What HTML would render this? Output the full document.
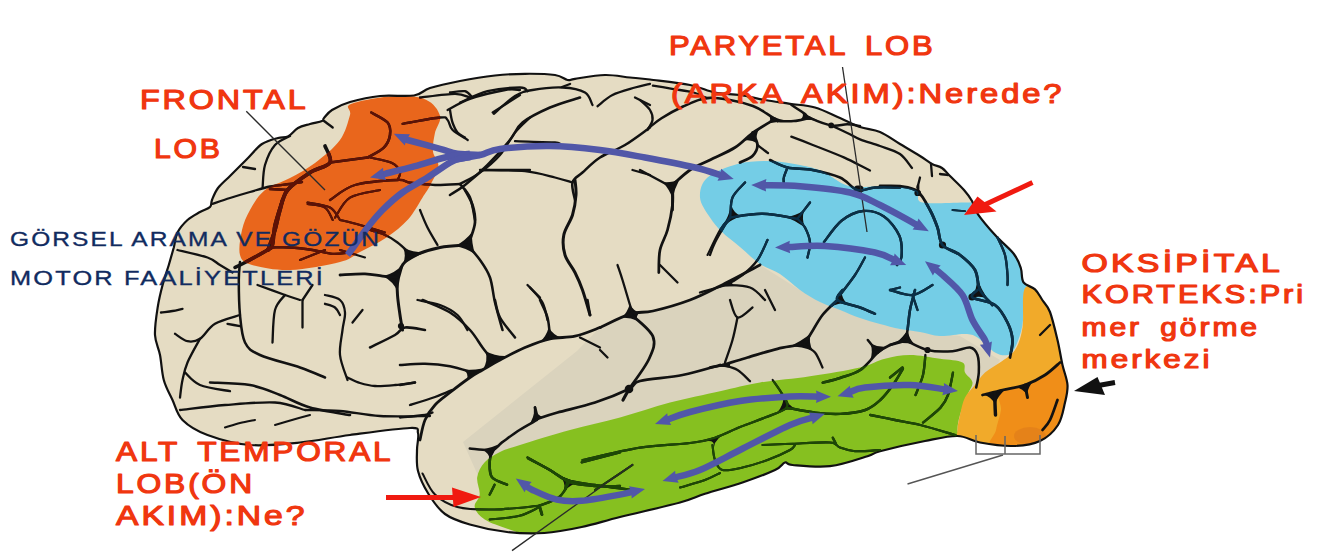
<!DOCTYPE html>
<html><head><meta charset="utf-8"><style>
html,body{margin:0;padding:0;background:#fff;width:1320px;height:559px;overflow:hidden}
svg{display:block}
text{font-family:"Liberation Sans",sans-serif}
</style></head><body>
<svg width="1320" height="559" viewBox="0 0 1320 559">
<defs><clipPath id="brain"><path d="M155.0,335.0 C154.6,327.1 156.3,316.1 157.6,307.8 C158.9,299.5 160.7,292.1 162.6,285.0 C164.5,277.9 166.9,271.2 168.8,265.0 C170.6,258.8 172.3,252.9 173.8,247.5 C175.2,242.1 175.2,237.1 177.5,232.5 C179.8,227.9 183.8,223.4 187.5,220.0 C191.2,216.6 196.2,214.2 200.0,212.0 C203.8,209.8 208.0,209.0 210.0,207.0 C212.0,205.0 210.7,203.2 212.0,200.0 C213.3,196.8 215.0,192.0 218.0,188.0 C221.0,184.0 226.0,180.0 230.0,176.0 C234.0,172.0 239.0,167.0 242.0,164.0 C245.0,161.0 244.7,161.3 248.0,158.0 C251.3,154.7 257.0,147.3 262.0,144.0 C267.0,140.7 273.7,139.2 278.0,138.0 C282.3,136.8 284.7,138.2 288.0,136.5 C291.3,134.8 294.3,130.1 298.0,128.0 C301.7,125.9 306.0,125.2 310.0,124.0 C314.0,122.8 319.7,122.0 322.0,121.0 C324.3,120.0 322.3,119.8 324.0,118.0 C325.7,116.2 327.7,112.7 332.0,110.0 C336.3,107.3 342.0,104.3 350.0,102.0 C358.0,99.7 369.3,97.1 380.0,96.0 C390.7,94.9 405.7,96.8 414.0,95.5 C422.3,94.2 422.3,90.4 430.0,88.0 C437.7,85.6 449.2,83.1 460.0,81.0 C470.8,78.9 484.2,76.7 495.0,75.5 C505.8,74.3 515.0,73.8 525.0,73.8 C535.0,73.7 547.9,74.0 555.0,75.0 C562.1,76.0 564.2,79.4 567.5,80.0 C570.8,80.6 568.8,79.6 575.0,78.8 C581.2,77.9 595.8,75.2 605.0,75.0 C614.2,74.8 622.5,76.8 630.0,77.5 C637.5,78.2 640.0,78.2 650.0,79.5 C660.0,80.8 679.2,82.8 690.0,85.0 C700.8,87.2 706.7,90.8 715.0,92.5 C723.3,94.2 731.7,93.8 740.0,95.0 C748.3,96.2 756.7,98.5 765.0,100.0 C773.3,101.5 781.7,102.5 790.0,103.8 C798.3,105.0 806.7,105.1 815.0,107.5 C823.3,109.9 832.5,114.8 840.0,118.0 C847.5,121.2 853.3,124.7 860.0,127.0 C866.7,129.3 873.3,129.2 880.0,132.0 C886.7,134.8 893.3,140.0 900.0,144.0 C906.7,148.0 914.7,152.7 920.0,156.0 C925.3,159.3 928.3,162.0 932.0,164.0 C935.7,166.0 939.0,166.0 942.0,168.0 C945.0,170.0 946.3,172.3 950.0,176.0 C953.7,179.7 960.3,185.8 964.0,190.0 C967.7,194.2 969.7,196.9 972.0,201.0 C974.3,205.1 974.0,208.5 978.0,214.3 C982.0,220.1 989.8,229.2 995.8,235.8 C1001.8,242.4 1009.5,248.3 1013.7,253.7 C1017.9,259.1 1019.2,263.2 1020.8,268.0 C1022.4,272.8 1021.1,278.7 1023.5,282.3 C1025.9,285.9 1031.9,286.4 1035.0,289.4 C1038.1,292.3 1039.8,296.2 1042.3,300.0 C1044.8,303.8 1047.5,305.3 1050.0,312.0 C1052.5,318.7 1055.4,331.2 1057.5,340.0 C1059.6,348.8 1060.8,357.5 1062.5,365.0 C1064.2,372.5 1067.1,378.8 1067.5,385.0 C1067.9,391.2 1066.6,395.8 1065.0,402.5 C1063.4,409.2 1062.2,418.6 1058.0,425.0 C1053.8,431.4 1047.6,437.5 1040.0,441.0 C1032.4,444.5 1022.5,445.8 1012.5,446.0 C1002.5,446.2 989.2,444.2 980.0,442.5 C970.8,440.8 966.7,436.2 957.5,436.0 C948.3,435.8 937.9,438.5 925.0,441.0 C912.1,443.5 889.6,448.7 880.0,451.2 C870.4,453.8 875.8,453.8 867.5,456.2 C859.2,458.8 842.5,464.8 830.0,466.2 C817.5,467.7 800.0,465.6 792.5,465.0 C785.0,464.4 787.9,461.7 785.0,462.5 C782.1,463.3 782.1,466.7 775.0,470.0 C767.9,473.3 754.2,478.5 742.5,482.5 C730.8,486.5 715.4,490.4 705.0,493.8 C694.6,497.1 694.2,498.6 680.0,502.5 C665.8,506.4 636.4,512.9 620.0,517.0 C603.6,521.1 594.3,524.3 581.7,527.0 C569.1,529.7 556.9,532.2 544.4,533.0 C531.9,533.8 519.4,533.4 507.0,532.0 C494.6,530.6 480.1,527.5 469.8,524.5 C459.5,521.5 451.9,519.1 445.0,514.0 C438.1,508.9 433.0,501.2 428.5,494.0 C424.0,486.8 419.9,478.3 418.0,471.0 C416.1,463.7 417.0,456.3 417.0,450.0 C417.0,443.7 419.2,436.7 418.0,433.0 C416.8,429.3 421.3,427.7 410.0,428.0 C398.7,428.3 368.3,432.6 350.0,435.0 C331.7,437.4 316.7,440.8 300.0,442.5 C283.3,444.2 265.4,446.2 250.0,445.0 C234.6,443.8 218.8,439.2 207.5,435.0 C196.2,430.8 188.3,425.8 182.5,420.0 C176.7,414.2 175.6,406.7 172.5,400.0 C169.4,393.3 165.8,387.5 163.8,380.0 C161.7,372.5 161.5,362.5 160.0,355.0 C158.5,347.5 155.4,342.9 155.0,335.0Z"/></clipPath></defs>
<path d="M155.0,335.0 C154.6,327.1 156.3,316.1 157.6,307.8 C158.9,299.5 160.7,292.1 162.6,285.0 C164.5,277.9 166.9,271.2 168.8,265.0 C170.6,258.8 172.3,252.9 173.8,247.5 C175.2,242.1 175.2,237.1 177.5,232.5 C179.8,227.9 183.8,223.4 187.5,220.0 C191.2,216.6 196.2,214.2 200.0,212.0 C203.8,209.8 208.0,209.0 210.0,207.0 C212.0,205.0 210.7,203.2 212.0,200.0 C213.3,196.8 215.0,192.0 218.0,188.0 C221.0,184.0 226.0,180.0 230.0,176.0 C234.0,172.0 239.0,167.0 242.0,164.0 C245.0,161.0 244.7,161.3 248.0,158.0 C251.3,154.7 257.0,147.3 262.0,144.0 C267.0,140.7 273.7,139.2 278.0,138.0 C282.3,136.8 284.7,138.2 288.0,136.5 C291.3,134.8 294.3,130.1 298.0,128.0 C301.7,125.9 306.0,125.2 310.0,124.0 C314.0,122.8 319.7,122.0 322.0,121.0 C324.3,120.0 322.3,119.8 324.0,118.0 C325.7,116.2 327.7,112.7 332.0,110.0 C336.3,107.3 342.0,104.3 350.0,102.0 C358.0,99.7 369.3,97.1 380.0,96.0 C390.7,94.9 405.7,96.8 414.0,95.5 C422.3,94.2 422.3,90.4 430.0,88.0 C437.7,85.6 449.2,83.1 460.0,81.0 C470.8,78.9 484.2,76.7 495.0,75.5 C505.8,74.3 515.0,73.8 525.0,73.8 C535.0,73.7 547.9,74.0 555.0,75.0 C562.1,76.0 564.2,79.4 567.5,80.0 C570.8,80.6 568.8,79.6 575.0,78.8 C581.2,77.9 595.8,75.2 605.0,75.0 C614.2,74.8 622.5,76.8 630.0,77.5 C637.5,78.2 640.0,78.2 650.0,79.5 C660.0,80.8 679.2,82.8 690.0,85.0 C700.8,87.2 706.7,90.8 715.0,92.5 C723.3,94.2 731.7,93.8 740.0,95.0 C748.3,96.2 756.7,98.5 765.0,100.0 C773.3,101.5 781.7,102.5 790.0,103.8 C798.3,105.0 806.7,105.1 815.0,107.5 C823.3,109.9 832.5,114.8 840.0,118.0 C847.5,121.2 853.3,124.7 860.0,127.0 C866.7,129.3 873.3,129.2 880.0,132.0 C886.7,134.8 893.3,140.0 900.0,144.0 C906.7,148.0 914.7,152.7 920.0,156.0 C925.3,159.3 928.3,162.0 932.0,164.0 C935.7,166.0 939.0,166.0 942.0,168.0 C945.0,170.0 946.3,172.3 950.0,176.0 C953.7,179.7 960.3,185.8 964.0,190.0 C967.7,194.2 969.7,196.9 972.0,201.0 C974.3,205.1 974.0,208.5 978.0,214.3 C982.0,220.1 989.8,229.2 995.8,235.8 C1001.8,242.4 1009.5,248.3 1013.7,253.7 C1017.9,259.1 1019.2,263.2 1020.8,268.0 C1022.4,272.8 1021.1,278.7 1023.5,282.3 C1025.9,285.9 1031.9,286.4 1035.0,289.4 C1038.1,292.3 1039.8,296.2 1042.3,300.0 C1044.8,303.8 1047.5,305.3 1050.0,312.0 C1052.5,318.7 1055.4,331.2 1057.5,340.0 C1059.6,348.8 1060.8,357.5 1062.5,365.0 C1064.2,372.5 1067.1,378.8 1067.5,385.0 C1067.9,391.2 1066.6,395.8 1065.0,402.5 C1063.4,409.2 1062.2,418.6 1058.0,425.0 C1053.8,431.4 1047.6,437.5 1040.0,441.0 C1032.4,444.5 1022.5,445.8 1012.5,446.0 C1002.5,446.2 989.2,444.2 980.0,442.5 C970.8,440.8 966.7,436.2 957.5,436.0 C948.3,435.8 937.9,438.5 925.0,441.0 C912.1,443.5 889.6,448.7 880.0,451.2 C870.4,453.8 875.8,453.8 867.5,456.2 C859.2,458.8 842.5,464.8 830.0,466.2 C817.5,467.7 800.0,465.6 792.5,465.0 C785.0,464.4 787.9,461.7 785.0,462.5 C782.1,463.3 782.1,466.7 775.0,470.0 C767.9,473.3 754.2,478.5 742.5,482.5 C730.8,486.5 715.4,490.4 705.0,493.8 C694.6,497.1 694.2,498.6 680.0,502.5 C665.8,506.4 636.4,512.9 620.0,517.0 C603.6,521.1 594.3,524.3 581.7,527.0 C569.1,529.7 556.9,532.2 544.4,533.0 C531.9,533.8 519.4,533.4 507.0,532.0 C494.6,530.6 480.1,527.5 469.8,524.5 C459.5,521.5 451.9,519.1 445.0,514.0 C438.1,508.9 433.0,501.2 428.5,494.0 C424.0,486.8 419.9,478.3 418.0,471.0 C416.1,463.7 417.0,456.3 417.0,450.0 C417.0,443.7 419.2,436.7 418.0,433.0 C416.8,429.3 421.3,427.7 410.0,428.0 C398.7,428.3 368.3,432.6 350.0,435.0 C331.7,437.4 316.7,440.8 300.0,442.5 C283.3,444.2 265.4,446.2 250.0,445.0 C234.6,443.8 218.8,439.2 207.5,435.0 C196.2,430.8 188.3,425.8 182.5,420.0 C176.7,414.2 175.6,406.7 172.5,400.0 C169.4,393.3 165.8,387.5 163.8,380.0 C161.7,372.5 161.5,362.5 160.0,355.0 C158.5,347.5 155.4,342.9 155.0,335.0Z" fill="#e5dcc3"/>
<g clip-path="url(#brain)">
<path d="M463,442 L577,351 L600,327.5 L630,314 L653,311 L690,300 L720,286 L760,265 L800,290 L840,310 L900,329 L960,336 L1000,360 L965,420 L900,440 L700,480 L480,480 Z" fill="#dad3bd"/>
<path d="M351.0,104.0 C358.5,100.8 382.5,96.7 395.0,96.0 C407.5,95.3 418.5,96.4 426.0,99.7 C433.5,103.0 438.5,110.1 440.0,115.8 C441.5,121.5 436.0,127.7 434.8,133.7 C433.6,139.7 432.4,146.2 433.0,151.6 C433.6,157.0 438.7,160.6 438.4,166.0 C438.1,171.4 433.7,178.5 431.0,183.8 C428.3,189.1 426.1,192.1 422.3,198.0 C418.5,203.9 414.0,212.9 408.0,219.5 C402.0,226.1 394.5,232.0 386.5,237.4 C378.5,242.8 367.8,247.9 360.0,252.0 C352.2,256.1 351.7,259.0 340.0,262.0 C328.3,265.0 304.7,269.5 290.0,270.0 C275.3,270.5 260.3,267.5 252.0,265.0 C243.7,262.5 241.7,260.8 240.0,255.0 C238.3,249.2 240.3,237.5 242.0,230.0 C243.7,222.5 246.2,216.7 250.0,210.0 C253.8,203.3 258.3,195.3 265.0,190.0 C271.7,184.7 281.7,182.5 290.0,178.0 C298.3,173.5 306.7,169.3 315.0,163.0 C323.3,156.7 334.2,148.0 340.0,140.0 C345.8,132.0 348.2,121.0 350.0,115.0 C351.8,109.0 343.5,107.2 351.0,104.0Z" fill="#e9661c"/>
<path d="M737.5,164.0 C747.9,161.2 759.6,160.8 770.0,161.0 C780.4,161.2 791.2,163.2 800.0,165.0 C808.8,166.8 815.0,168.0 823.0,171.5 C831.0,175.0 838.5,183.3 848.0,185.8 C857.5,188.3 870.5,186.0 880.0,186.2 C889.5,186.5 898.8,186.7 905.0,187.5 C911.2,188.3 914.6,188.8 917.5,191.2 C920.4,193.8 914.2,200.6 922.5,202.5 C930.8,204.4 956.2,202.1 967.5,202.5 C978.8,202.9 981.2,198.8 990.0,205.0 C998.8,211.2 1012.5,225.8 1020.0,240.0 C1027.5,254.2 1034.2,281.7 1035.0,290.0 C1035.8,298.3 1027.1,284.2 1025.0,290.0 C1022.9,295.8 1024.2,315.4 1022.5,325.0 C1020.8,334.6 1017.5,342.5 1015.0,347.5 C1012.5,352.5 1010.8,354.2 1007.5,355.0 C1004.2,355.8 1000.0,355.4 995.0,352.5 C990.0,349.6 982.5,340.6 977.5,337.5 C972.5,334.4 971.2,334.2 965.0,334.0 C958.8,333.8 947.5,336.3 940.0,336.0 C932.5,335.7 926.7,333.2 920.0,332.0 C913.3,330.8 906.7,330.3 900.0,329.0 C893.3,327.7 886.7,325.8 880.0,324.0 C873.3,322.2 866.7,320.3 860.0,318.0 C853.3,315.7 846.7,312.7 840.0,310.0 C833.3,307.3 826.7,305.3 820.0,302.0 C813.3,298.7 806.7,294.7 800.0,290.0 C793.3,285.3 786.7,278.3 780.0,274.0 C773.3,269.7 766.7,268.5 760.0,264.0 C753.3,259.5 746.3,252.3 740.0,247.0 C733.7,241.7 727.0,236.9 722.0,232.0 C717.0,227.1 713.7,223.2 710.0,217.5 C706.3,211.8 700.4,204.2 700.0,197.5 C699.6,190.8 701.2,183.1 707.5,177.5 C713.8,171.9 727.1,166.8 737.5,164.0Z" fill="#74cde6"/>
<path d="M520.0,445.0 C531.7,441.3 553.3,434.6 570.0,430.0 C586.7,425.4 603.3,422.1 620.0,417.5 C636.7,412.9 653.3,406.9 670.0,402.5 C686.7,398.1 705.0,394.6 720.0,391.2 C735.0,387.9 745.0,385.0 760.0,382.5 C775.0,380.0 793.3,378.8 810.0,376.2 C826.7,373.8 847.5,370.4 860.0,367.5 C872.5,364.6 876.7,360.8 885.0,358.8 C893.3,356.7 900.8,355.0 910.0,355.0 C919.2,355.0 931.2,357.5 940.0,358.8 C948.8,360.0 958.3,360.2 962.5,362.5 C966.7,364.8 963.3,369.2 965.0,372.5 C966.7,375.8 972.1,378.8 972.5,382.5 C972.9,386.2 969.6,389.6 967.5,395.0 C965.4,400.4 961.7,409.2 960.0,415.0 C958.3,420.8 957.5,425.0 957.5,430.0 C957.5,435.0 965.4,442.0 960.0,445.0 C954.6,448.0 938.3,445.8 925.0,448.0 C911.7,450.2 895.8,454.0 880.0,458.0 C864.2,462.0 845.8,469.7 830.0,472.0 C814.2,474.3 799.6,469.0 785.0,472.0 C770.4,475.0 755.8,485.3 742.5,490.0 C729.2,494.7 715.4,496.7 705.0,500.0 C694.6,503.3 694.2,505.8 680.0,510.0 C665.8,514.2 636.4,520.8 620.0,525.0 C603.6,529.2 594.3,532.5 581.7,535.0 C569.1,537.5 556.4,540.9 544.4,540.0 C532.4,539.1 519.6,532.9 509.6,529.5 C499.7,526.1 490.5,523.2 484.7,519.5 C478.9,515.8 475.5,511.1 474.7,507.0 C473.9,502.9 479.3,499.6 479.7,494.6 C480.1,489.6 476.4,482.6 477.2,477.2 C478.0,471.8 480.9,466.5 484.7,462.3 C488.5,458.1 494.1,454.9 500.0,452.0 C505.9,449.1 508.3,448.7 520.0,445.0Z" fill="#86c020"/>
<path d="M1025.0,288.0 C1028.8,282.1 1039.2,286.7 1045.0,292.0 C1050.8,297.3 1055.0,305.3 1060.0,320.0 C1065.0,334.7 1073.3,363.3 1075.0,380.0 C1076.7,396.7 1074.2,407.5 1070.0,420.0 C1065.8,432.5 1061.7,449.2 1050.0,455.0 C1038.3,460.8 1015.0,456.7 1000.0,455.0 C985.0,453.3 967.1,449.2 960.0,445.0 C952.9,440.8 957.5,435.0 957.5,430.0 C957.5,425.0 958.8,420.4 960.0,415.0 C961.2,409.6 962.5,402.5 965.0,397.5 C967.5,392.5 971.7,389.2 975.0,385.0 C978.3,380.8 980.8,376.2 985.0,372.5 C989.2,368.8 995.0,366.2 1000.0,362.5 C1005.0,358.8 1011.2,355.8 1015.0,350.0 C1018.8,344.2 1020.8,337.8 1022.5,327.5 C1024.2,317.2 1021.2,293.9 1025.0,288.0Z" fill="#f1aa2a"/>
<path d="M1000.0,393.0 C1004.0,388.8 1017.5,388.0 1025.0,385.0 C1032.5,382.0 1039.2,378.8 1045.0,375.0 C1050.8,371.2 1054.2,362.8 1060.0,362.0 C1065.8,361.2 1076.7,355.3 1080.0,370.0 C1083.3,384.7 1094.2,436.7 1080.0,450.0 C1065.8,463.3 1009.0,453.3 995.0,450.0 C981.0,446.7 995.0,436.7 996.0,430.0 C997.0,423.3 1000.3,416.2 1001.0,410.0 C1001.7,403.8 996.0,397.2 1000.0,393.0Z" fill="#f08e18"/>
<ellipse cx="1030" cy="436" rx="16" ry="9" fill="#e2801a" opacity="0.8"/>
</g>
<path d="M155.0,335.0 C154.6,327.1 156.3,316.1 157.6,307.8 C158.9,299.5 160.7,292.1 162.6,285.0 C164.5,277.9 166.9,271.2 168.8,265.0 C170.6,258.8 172.3,252.9 173.8,247.5 C175.2,242.1 175.2,237.1 177.5,232.5 C179.8,227.9 183.8,223.4 187.5,220.0 C191.2,216.6 196.2,214.2 200.0,212.0 C203.8,209.8 208.0,209.0 210.0,207.0 C212.0,205.0 210.7,203.2 212.0,200.0 C213.3,196.8 215.0,192.0 218.0,188.0 C221.0,184.0 226.0,180.0 230.0,176.0 C234.0,172.0 239.0,167.0 242.0,164.0 C245.0,161.0 244.7,161.3 248.0,158.0 C251.3,154.7 257.0,147.3 262.0,144.0 C267.0,140.7 273.7,139.2 278.0,138.0 C282.3,136.8 284.7,138.2 288.0,136.5 C291.3,134.8 294.3,130.1 298.0,128.0 C301.7,125.9 306.0,125.2 310.0,124.0 C314.0,122.8 319.7,122.0 322.0,121.0 C324.3,120.0 322.3,119.8 324.0,118.0 C325.7,116.2 327.7,112.7 332.0,110.0 C336.3,107.3 342.0,104.3 350.0,102.0 C358.0,99.7 369.3,97.1 380.0,96.0 C390.7,94.9 405.7,96.8 414.0,95.5 C422.3,94.2 422.3,90.4 430.0,88.0 C437.7,85.6 449.2,83.1 460.0,81.0 C470.8,78.9 484.2,76.7 495.0,75.5 C505.8,74.3 515.0,73.8 525.0,73.8 C535.0,73.7 547.9,74.0 555.0,75.0 C562.1,76.0 564.2,79.4 567.5,80.0 C570.8,80.6 568.8,79.6 575.0,78.8 C581.2,77.9 595.8,75.2 605.0,75.0 C614.2,74.8 622.5,76.8 630.0,77.5 C637.5,78.2 640.0,78.2 650.0,79.5 C660.0,80.8 679.2,82.8 690.0,85.0 C700.8,87.2 706.7,90.8 715.0,92.5 C723.3,94.2 731.7,93.8 740.0,95.0 C748.3,96.2 756.7,98.5 765.0,100.0 C773.3,101.5 781.7,102.5 790.0,103.8 C798.3,105.0 806.7,105.1 815.0,107.5 C823.3,109.9 832.5,114.8 840.0,118.0 C847.5,121.2 853.3,124.7 860.0,127.0 C866.7,129.3 873.3,129.2 880.0,132.0 C886.7,134.8 893.3,140.0 900.0,144.0 C906.7,148.0 914.7,152.7 920.0,156.0 C925.3,159.3 928.3,162.0 932.0,164.0 C935.7,166.0 939.0,166.0 942.0,168.0 C945.0,170.0 946.3,172.3 950.0,176.0 C953.7,179.7 960.3,185.8 964.0,190.0 C967.7,194.2 969.7,196.9 972.0,201.0 C974.3,205.1 974.0,208.5 978.0,214.3 C982.0,220.1 989.8,229.2 995.8,235.8 C1001.8,242.4 1009.5,248.3 1013.7,253.7 C1017.9,259.1 1019.2,263.2 1020.8,268.0 C1022.4,272.8 1021.1,278.7 1023.5,282.3 C1025.9,285.9 1031.9,286.4 1035.0,289.4 C1038.1,292.3 1039.8,296.2 1042.3,300.0 C1044.8,303.8 1047.5,305.3 1050.0,312.0 C1052.5,318.7 1055.4,331.2 1057.5,340.0 C1059.6,348.8 1060.8,357.5 1062.5,365.0 C1064.2,372.5 1067.1,378.8 1067.5,385.0 C1067.9,391.2 1066.6,395.8 1065.0,402.5 C1063.4,409.2 1062.2,418.6 1058.0,425.0 C1053.8,431.4 1047.6,437.5 1040.0,441.0 C1032.4,444.5 1022.5,445.8 1012.5,446.0 C1002.5,446.2 989.2,444.2 980.0,442.5 C970.8,440.8 966.7,436.2 957.5,436.0 C948.3,435.8 937.9,438.5 925.0,441.0 C912.1,443.5 889.6,448.7 880.0,451.2 C870.4,453.8 875.8,453.8 867.5,456.2 C859.2,458.8 842.5,464.8 830.0,466.2 C817.5,467.7 800.0,465.6 792.5,465.0 C785.0,464.4 787.9,461.7 785.0,462.5 C782.1,463.3 782.1,466.7 775.0,470.0 C767.9,473.3 754.2,478.5 742.5,482.5 C730.8,486.5 715.4,490.4 705.0,493.8 C694.6,497.1 694.2,498.6 680.0,502.5 C665.8,506.4 636.4,512.9 620.0,517.0 C603.6,521.1 594.3,524.3 581.7,527.0 C569.1,529.7 556.9,532.2 544.4,533.0 C531.9,533.8 519.4,533.4 507.0,532.0 C494.6,530.6 480.1,527.5 469.8,524.5 C459.5,521.5 451.9,519.1 445.0,514.0 C438.1,508.9 433.0,501.2 428.5,494.0 C424.0,486.8 419.9,478.3 418.0,471.0 C416.1,463.7 417.0,456.3 417.0,450.0 C417.0,443.7 419.2,436.7 418.0,433.0 C416.8,429.3 421.3,427.7 410.0,428.0 C398.7,428.3 368.3,432.6 350.0,435.0 C331.7,437.4 316.7,440.8 300.0,442.5 C283.3,444.2 265.4,446.2 250.0,445.0 C234.6,443.8 218.8,439.2 207.5,435.0 C196.2,430.8 188.3,425.8 182.5,420.0 C176.7,414.2 175.6,406.7 172.5,400.0 C169.4,393.3 165.8,387.5 163.8,380.0 C161.7,372.5 161.5,362.5 160.0,355.0 C158.5,347.5 155.4,342.9 155.0,335.0Z" fill="none" stroke="#111" stroke-width="2.2"/>
<path d="M700.0,443.0 Q715.0,437.7 730.0,431.0 Q715.0,437.7 714.0,447.0 Q715.0,437.7 700.0,443.0 Z" fill="#121212"/>
<path d="M403.1,247.5 Q413.4,252.6 424.8,252.4 Q413.2,257.8 402.6,264.9 Q406.7,256.3 403.1,247.5Z" fill="#111"/>
<path d="M382.9,276.3 Q395.1,272.9 403.9,263.9 Q399.4,277.4 397.5,291.6 Q393.1,281.2 382.9,276.3Z" fill="#111"/>
<path d="M472.2,231.9 Q471.3,243.5 475.3,254.3 Q466.0,247.8 454.7,246.2 Q465.1,241.0 472.2,231.9Z" fill="#111"/>
<circle cx="857.5" cy="189.0" r="3.6" fill="#111"/>
<path d="M731.5,205.8 Q733.8,213.4 741.3,216.2 Q731.3,219.5 723.2,226.0 Q728.4,216.3 731.5,205.8Z" fill="#111"/>
<path d="M785.8,217.1 Q795.8,215.8 804.1,210.2 Q801.5,218.8 804.8,227.2 Q796.0,220.9 785.8,217.1Z" fill="#111"/>
<path d="M733.4,280.2 Q730.4,283.8 734.7,286.0 Q725.1,286.1 715.7,287.8 Q724.7,284.4 733.4,280.2Z" fill="#111"/>
<circle cx="917.5" cy="193.0" r="3.1" fill="#111"/>
<circle cx="942.5" cy="245.0" r="3.6" fill="#111"/>
<path d="M977.2,279.0 Q981.4,289.3 987.3,298.7 Q979.8,295.0 972.0,298.0 Q976.8,289.1 977.2,279.0Z" fill="#111"/>
<path d="M907.5,329.9 Q908.6,338.2 914.5,344.2 Q904.9,342.2 895.2,343.3 Q902.8,338.0 907.5,329.9Z" fill="#111"/>
<circle cx="927.5" cy="350.0" r="3.1" fill="#111"/>
<circle cx="972.0" cy="297.0" r="3.6" fill="#111"/>
<path d="M1005.7,389.3 Q998.2,395.3 995.0,404.3 Q991.6,396.9 983.8,394.7 Q994.8,392.4 1005.7,389.3Z" fill="#111"/>
<path d="M1033.7,380.7 Q1028.2,386.6 1026.9,394.5 Q1022.7,388.5 1015.5,387.1 Q1024.8,384.3 1033.7,380.7Z" fill="#111"/>
<path d="M841.8,291.3 Q841.6,298.3 846.7,303.1 Q838.2,303.0 830.6,306.9 Q836.7,299.5 841.8,291.3Z" fill="#111"/>
<path d="M810.8,333.6 Q808.1,342.8 813.0,351.1 Q801.9,346.6 789.8,346.3 Q801.2,341.4 810.8,333.6Z" fill="#111"/>
<path d="M731.8,362.2 Q728.1,365.1 731.7,368.1 Q722.4,366.5 713.0,366.9 Q722.4,364.7 731.8,362.2Z" fill="#111"/>
<circle cx="629.0" cy="389.0" r="4.3" fill="#111"/>
<path d="M535.0,409.9 Q537.4,415.3 543.1,417.1 Q535.9,419.6 529.8,424.2 Q533.4,417.4 535.0,409.9Z" fill="#111"/>
<path d="M560.5,476.0 Q567.8,479.2 575.5,481.4 Q569.3,482.8 565.5,487.9 Q564.8,481.2 560.5,476.0Z" fill="#111"/>
<path d="M482.3,449.4 Q491.4,448.1 499.7,444.1 Q493.8,451.1 490.2,459.6 Q488.6,452.7 482.3,449.4Z" fill="#111"/>
<path d="M561.1,476.4 Q569.5,480.3 578.7,482.0 Q570.6,484.6 564.7,490.7 Q565.3,482.9 561.1,476.4Z" fill="#111"/>
<path d="M548.7,327.2 Q553.0,334.9 561.3,337.6 Q550.2,339.4 539.4,342.5 Q546.4,336.3 548.7,327.2Z" fill="#111"/>
<path d="M485.4,351.0 Q496.1,356.9 508.2,355.9 Q495.3,362.5 482.7,369.9 Q488.4,361.1 485.4,351.0Z" fill="#111"/>
<path d="M463.8,370.1 Q474.8,370.3 485.7,368.1 Q475.7,373.2 466.8,379.9 Q469.2,373.8 463.8,370.1Z" fill="#111"/>
<circle cx="401.0" cy="326.0" r="3.1" fill="#111"/>
<path d="M769.0,115.1 Q778.1,119.3 788.0,121.1 Q777.7,121.8 767.5,123.4 Q772.0,120.0 769.0,115.1Z" fill="#111"/>
<path d="M759.5,128.6 Q755.3,135.3 756.8,143.1 Q750.3,139.0 742.9,141.0 Q751.1,134.7 759.5,128.6Z" fill="#111"/>
<path d="M662.5,182.1 Q671.7,183.3 679.8,178.8 Q674.7,188.3 672.5,198.8 Q669.5,189.3 662.5,182.1Z" fill="#111"/>
<path d="M802.1,112.1 Q810.2,117.2 819.0,121.1 Q809.7,119.5 800.2,119.8 Q804.6,116.8 802.1,112.1Z" fill="#111"/>
<circle cx="831.2" cy="125.4" r="2.9" fill="#111"/>
<path d="M699.1,94.8 Q706.7,97.2 714.6,98.7 Q706.6,99.0 698.9,100.8 Q702.0,97.9 699.1,94.8Z" fill="#111"/>
<circle cx="860.0" cy="189.0" r="3.6" fill="#111"/>
<circle cx="918.0" cy="193.0" r="3.1" fill="#111"/>
<path d="M629.7,304.2 Q633.1,310.6 640.0,312.7 Q635.4,315.6 637.3,320.8 Q629.8,317.2 621.5,317.9 Q627.5,312.2 629.7,304.2Z" fill="#111"/>
<path d="M783.5,397.7 Q788.4,404.9 796.0,409.3 Q786.8,409.1 777.9,411.6 Q783.0,405.6 783.5,397.7Z" fill="#111"/>
<path d="M870.5,343.4 Q878.6,347.7 887.8,346.4 Q878.5,352.8 870.1,360.3 Q873.3,351.9 870.5,343.4Z" fill="#111"/>
<path d="M907.4,330.6 Q908.4,338.4 913.9,343.9 Q904.9,342.1 895.8,343.1 Q902.9,338.1 907.4,330.6Z" fill="#111"/>
<g fill="none" stroke="#121212" stroke-linecap="round" stroke-linejoin="round"><path d="M324.0,121.0 C325.4,122.1 331.2,126.4 332.7,127.5" stroke-width="2.30"/><path d="M290.0,136.0 C287.5,137.5 279.2,140.2 275.0,145.0 C270.8,149.8 267.1,157.9 265.0,165.0 C262.9,172.1 263.0,183.8 262.6,187.6" stroke-width="2.30"/><path d="M243.0,167.0 C245.0,167.3 253.0,168.7 255.0,169.0" stroke-width="2.30"/><path d="M325.0,146.0 C325.8,148.8 332.5,158.2 330.0,162.6 C327.5,167.0 317.1,168.0 310.0,172.6 C302.9,177.2 292.6,183.8 287.6,190.0 C282.6,196.2 282.1,203.3 280.0,210.0 C277.9,216.7 277.0,223.3 275.0,230.0 C273.0,236.7 269.2,246.7 268.0,250.0" stroke-width="3.68"/><path d="M330.0,162.6 C336.2,161.8 361.2,158.4 367.5,157.6" stroke-width="2.53"/><path d="M287.6,190.0 C284.7,189.8 272.9,189.2 270.0,189.0" stroke-width="2.53"/><path d="M307.6,204.0 C310.5,204.6 320.8,204.9 325.0,207.6 C329.2,210.3 331.4,217.9 332.7,220.0" stroke-width="2.07"/><path d="M335.0,217.6 C337.5,214.3 342.5,202.2 350.0,197.6 C357.5,193.0 375.0,191.3 380.0,190.0" stroke-width="2.07"/><path d="M371.3,112.5 C374.0,114.2 384.5,118.8 387.6,122.5 C390.7,126.2 390.6,130.8 390.0,135.0 C389.4,139.2 387.6,143.8 383.8,147.6 C380.1,151.4 370.2,155.9 367.5,157.6" stroke-width="2.53"/><path d="M402.6,123.8 C408.8,122.8 432.5,118.1 440.0,117.5 C447.5,116.9 445.5,117.9 447.6,120.0 C449.7,122.1 449.2,126.7 452.6,130.0 C456.0,133.3 465.2,138.3 467.7,140.0" stroke-width="2.30"/><path d="M420.0,97.5 C425.8,96.9 446.7,93.8 455.0,93.8 C463.3,93.8 467.5,96.9 470.0,97.5" stroke-width="2.30"/><path d="M447.6,110.0 C451.3,108.1 460.4,102.1 470.0,98.8 C479.6,95.5 496.7,91.5 505.0,90.0 C513.3,88.5 517.5,90.0 520.0,90.0" stroke-width="2.30"/><path d="M492.7,112.5 C497.2,109.6 515.5,97.9 520.0,95.0" stroke-width="2.30"/><path d="M370.0,157.6 C373.7,158.5 387.0,160.6 392.0,163.0 C397.0,165.4 399.1,169.2 400.0,172.0 C400.9,174.8 398.0,178.7 397.6,180.0" stroke-width="2.07"/><path d="M330.0,200.0 C334.2,197.5 343.7,188.3 355.0,185.0 C366.3,181.7 388.4,180.4 397.6,180.0 C406.8,179.6 403.8,181.8 410.0,182.6 C416.2,183.4 426.7,184.8 435.0,185.0 C443.3,185.2 455.8,184.2 460.0,184.0" stroke-width="2.30"/><path d="M460.0,184.0 C461.7,186.3 467.5,191.6 470.0,197.6 C472.5,203.6 474.2,216.3 475.0,220.0" stroke-width="2.53"/><path d="M460.0,184.0 C463.3,182.1 473.3,177.4 480.0,172.6 C486.7,167.8 494.2,161.7 500.0,155.0 C505.8,148.3 510.0,138.8 515.0,132.6 C520.0,126.3 527.5,120.0 530.0,117.5" stroke-width="2.30"/><path d="M480.0,170.0 C488.3,170.0 521.7,170.0 530.0,170.0" stroke-width="2.30"/><path d="M450.0,92.5 C452.5,92.3 461.2,90.4 465.0,91.2 C468.8,92.1 471.2,96.5 472.5,97.5" stroke-width="2.30"/><path d="M460.0,102.5 C464.6,100.6 477.5,93.8 487.5,91.2 C497.5,88.8 513.3,87.5 520.0,87.5 C526.7,87.5 526.2,90.6 527.5,91.2" stroke-width="2.30"/><path d="M493.8,113.8 C497.3,110.8 508.5,100.0 515.0,96.0 C521.5,92.0 524.6,91.4 532.5,90.0 C540.4,88.6 553.8,87.1 562.5,87.5 C571.2,87.9 580.0,89.6 585.0,92.5 C590.0,95.4 591.2,102.9 592.5,105.0" stroke-width="2.30"/><path d="M570.0,84.0 C568.7,84.5 563.3,86.5 562.0,87.0" stroke-width="2.30"/><path d="M597.5,106.2 C600.0,104.4 606.2,98.1 612.5,95.0 C618.8,91.9 628.8,89.4 635.0,87.5 C641.2,85.6 647.5,84.4 650.0,83.8" stroke-width="2.30"/><path d="M635.0,97.5 C637.5,98.8 647.5,103.8 650.0,105.0" stroke-width="2.30"/><path d="M450.0,110.0 C450.4,112.1 451.2,118.8 452.5,122.5 C453.8,126.2 455.4,130.0 457.5,132.5 C459.6,135.0 463.8,136.7 465.0,137.5" stroke-width="2.30"/><path d="M580.0,97.5 C575.0,99.2 559.6,103.3 550.0,107.5 C540.4,111.7 529.2,117.1 522.5,122.5 C515.8,127.9 515.8,132.9 510.0,140.0 C504.2,147.1 495.0,157.5 487.5,165.0 C480.0,172.5 471.2,180.0 465.0,185.0 C458.8,190.0 452.5,193.3 450.0,195.0" stroke-width="2.53"/><path d="M515.0,141.2 C521.7,141.5 547.5,141.9 555.0,142.5 C562.5,143.1 559.2,144.6 560.0,145.0" stroke-width="2.30"/><path d="M650.0,127.5 C645.8,130.4 633.3,140.0 625.0,145.0 C616.7,150.0 607.1,152.9 600.0,157.5 C592.9,162.1 587.1,168.3 582.5,172.5 C577.9,176.7 573.8,177.9 572.5,182.5 C571.2,187.1 574.6,197.1 575.0,200.0" stroke-width="2.53"/><path d="M482.5,170.0 C489.6,170.2 512.9,170.0 525.0,171.2 C537.1,172.5 547.1,175.6 555.0,177.5 C562.9,179.4 569.6,181.7 572.5,182.5" stroke-width="2.30"/><path d="M632.5,170.0 C635.4,170.8 647.1,174.2 650.0,175.0" stroke-width="2.30"/><path d="M177.5,250.0 C182.5,251.2 200.4,255.0 207.5,257.5 C214.6,260.0 215.8,262.5 220.0,265.0 C224.2,267.5 230.4,271.2 232.5,272.5" stroke-width="2.30"/><path d="M161.0,312.5 C162.9,312.2 168.9,311.6 172.5,311.0 C176.1,310.4 180.8,309.1 182.5,308.8" stroke-width="2.30"/><path d="M240.0,262.0 C239.8,265.0 238.8,271.2 238.8,280.0 C238.8,288.8 239.0,304.6 240.0,315.0 C241.0,325.4 241.7,335.8 245.0,342.5 C248.3,349.2 250.8,350.8 260.0,355.0 C269.2,359.2 289.2,363.8 300.0,367.5 C310.8,371.2 320.8,375.8 325.0,377.5" stroke-width="2.53"/><path d="M175.0,333.8 C177.1,335.0 183.3,340.4 187.5,341.2 C191.7,342.1 195.4,341.7 200.0,338.8 C204.6,335.8 208.3,327.7 215.0,323.8 C221.7,319.8 235.8,316.5 240.0,315.0" stroke-width="2.30"/><path d="M227.5,323.8 C229.6,324.2 237.9,325.8 240.0,326.2" stroke-width="2.30"/><path d="M200.0,338.8 C197.9,342.7 190.4,355.6 187.5,362.5 C184.6,369.4 183.8,374.2 182.5,380.0 C181.2,385.8 180.4,394.6 180.0,397.5" stroke-width="2.30"/><path d="M185.0,372.5 C187.5,374.6 192.5,381.9 200.0,385.0 C207.5,388.1 225.0,390.2 230.0,391.2" stroke-width="2.30"/><path d="M210.0,382.5 C216.7,382.9 238.3,382.9 250.0,385.0 C261.7,387.1 270.0,391.2 280.0,395.0 C290.0,398.8 298.3,404.2 310.0,407.5 C321.7,410.8 343.3,413.8 350.0,415.0" stroke-width="2.53"/><path d="M180.0,410.0 C187.5,409.2 209.2,406.2 225.0,405.0 C240.8,403.8 261.7,401.7 275.0,402.5 C288.3,403.3 300.0,408.8 305.0,410.0" stroke-width="2.30"/><path d="M257.5,285.0 C262.1,286.7 277.9,292.5 285.0,295.0 C292.1,297.5 297.5,299.2 300.0,300.0" stroke-width="2.30"/><path d="M285.0,295.0 C283.3,297.5 277.1,302.1 275.0,310.0 C272.9,317.9 272.9,337.1 272.5,342.5" stroke-width="2.30"/><path d="M302.5,300.0 C304.2,297.5 310.8,287.5 312.5,285.0" stroke-width="2.30"/><path d="M302.5,300.0 C302.5,304.6 302.5,322.9 302.5,327.5" stroke-width="2.30"/><path d="M325.0,295.0 C327.5,295.8 336.7,297.1 340.0,300.0 C343.3,302.9 344.6,307.5 345.0,312.5 C345.4,317.5 343.3,322.9 342.5,330.0 C341.7,337.1 339.2,346.7 340.0,355.0 C340.8,363.3 346.2,375.8 347.5,380.0" stroke-width="2.30"/><path d="M325.0,303.8 C326.7,304.4 332.5,305.6 335.0,307.5 C337.5,309.4 339.2,313.8 340.0,315.0" stroke-width="2.30"/><path d="M282.5,200.0 C281.2,204.2 276.7,217.5 275.0,225.0 C273.3,232.5 273.8,240.8 272.5,245.0 C271.2,249.2 272.1,247.1 267.5,250.0 C262.9,252.9 250.4,259.6 245.0,262.5 C239.6,265.4 236.7,266.7 235.0,267.5" stroke-width="3.45"/><path d="M272.5,247.5 C275.4,247.5 283.3,247.1 290.0,247.5 C296.7,247.9 305.4,249.0 312.5,250.0 C319.6,251.0 326.2,253.3 332.5,253.8 C338.8,254.2 347.1,252.7 350.0,252.5" stroke-width="2.30"/><path d="M300.0,260.0 C304.2,258.3 320.8,251.7 325.0,250.0" stroke-width="2.07"/><path d="M307.5,202.5 C311.2,203.3 324.6,204.6 330.0,207.5 C335.4,210.4 338.3,217.9 340.0,220.0" stroke-width="2.07"/><path d="M465.0,190.0 C466.2,192.5 470.8,199.6 472.5,205.0 C474.2,210.4 475.4,216.7 475.0,222.5 C474.6,228.3 471.2,236.2 470.0,240.0 C468.8,243.8 467.9,244.2 467.5,245.0" stroke-width="2.76"/><path d="M467.5,245.0 C462.9,245.4 449.2,245.6 440.0,247.5 C430.8,249.4 418.8,253.3 412.5,256.2 C406.2,259.2 405.0,261.5 402.5,265.0 C400.0,268.5 398.3,272.5 397.5,277.5 C396.7,282.5 397.1,288.8 397.5,295.0 C397.9,301.2 399.2,309.2 400.0,315.0 C400.8,320.8 402.1,327.5 402.5,330.0" stroke-width="2.99"/><path d="M420.0,210.0 C421.2,212.9 424.6,221.7 427.5,227.5 C430.4,233.3 435.8,242.1 437.5,245.0" stroke-width="2.30"/><path d="M412.5,256.0 C410.0,253.8 402.5,246.2 397.5,242.5 C392.5,238.8 387.1,235.8 382.5,233.8 C377.9,231.7 372.1,230.6 370.0,230.0" stroke-width="2.30"/><path d="M397.5,277.5 C395.0,277.3 387.9,276.9 382.5,276.2 C377.1,275.6 372.1,274.0 365.0,273.8 C357.9,273.5 344.2,274.8 340.0,275.0" stroke-width="2.76"/><path d="M467.5,245.0 C469.6,247.5 476.2,254.6 480.0,260.0 C483.8,265.4 487.5,270.4 490.0,277.5 C492.5,284.6 492.9,293.8 495.0,302.5 C497.1,311.2 501.2,325.4 502.5,330.0" stroke-width="2.53"/><path d="M417.5,300.0 C421.2,300.8 433.3,302.5 440.0,305.0 C446.7,307.5 452.9,310.8 457.5,315.0 C462.1,319.2 465.8,327.5 467.5,330.0" stroke-width="2.30"/><path d="M527.5,285.0 C529.6,287.1 537.9,295.4 540.0,297.5" stroke-width="2.30"/><path d="M340.0,220.0 C343.3,220.8 352.5,222.9 360.0,225.0 C367.5,227.1 380.8,231.2 385.0,232.5" stroke-width="2.07"/><path d="M340.0,250.0 C344.2,251.2 360.8,256.2 365.0,257.5" stroke-width="2.07"/><path d="M362.5,310.0 C360.8,312.1 354.2,320.4 352.5,322.5" stroke-width="2.30"/><path d="M575.0,180.0 C575.2,182.5 576.4,189.2 576.0,195.0 C575.6,200.8 574.5,208.3 572.5,215.0 C570.5,221.7 565.0,228.3 563.8,235.0 C562.5,241.7 563.1,248.8 565.0,255.0 C566.9,261.2 572.1,266.7 575.0,272.5 C577.9,278.3 580.0,282.9 582.5,290.0 C585.0,297.1 588.8,310.8 590.0,315.0" stroke-width="2.99"/><path d="M672.5,185.0 C672.5,188.3 673.3,197.5 672.5,205.0 C671.7,212.5 669.6,222.5 667.5,230.0 C665.4,237.5 661.5,242.9 660.0,250.0 C658.5,257.1 659.0,268.8 658.8,272.5" stroke-width="2.76"/><path d="M660.0,265.0 C662.9,267.9 674.6,279.6 677.5,282.5" stroke-width="2.30"/><path d="M617.5,265.0 C618.3,267.5 620.4,273.3 622.5,280.0 C624.6,286.7 628.3,299.6 630.0,305.0 C631.7,310.4 632.1,311.2 632.5,312.5" stroke-width="2.30"/><path d="M530.0,287.5 C532.1,290.0 539.6,297.1 542.5,302.5 C545.4,307.9 546.7,317.1 547.5,320.0" stroke-width="2.30"/><path d="M707.5,255.0 C709.6,250.8 716.2,236.2 720.0,230.0 C723.8,223.8 728.3,219.6 730.0,217.5" stroke-width="2.07"/><path d="M770.0,160.0 C772.9,161.2 780.4,165.8 787.5,167.5 C794.6,169.2 803.8,168.3 812.5,170.0 C821.2,171.7 832.5,174.2 840.0,177.5 C847.5,180.8 851.7,188.3 857.5,190.0 C863.3,191.7 867.9,187.9 875.0,187.5 C882.1,187.1 895.8,187.5 900.0,187.5" stroke-width="2.53"/><path d="M787.5,167.5 C786.9,169.2 784.4,175.0 783.8,177.5 C783.1,180.0 783.8,181.7 783.8,182.5" stroke-width="2.30"/><path d="M745.0,182.5 C742.9,185.0 735.0,191.7 732.5,197.5 C730.0,203.3 731.2,212.9 730.0,217.5 C728.8,222.1 727.5,220.8 725.0,225.0 C722.5,229.2 717.5,237.5 715.0,242.5 C712.5,247.5 710.8,252.9 710.0,255.0" stroke-width="2.30"/><path d="M730.0,217.5 C735.4,216.9 751.2,213.5 762.5,213.8 C773.8,214.0 791.7,217.9 797.5,218.8" stroke-width="2.53"/><path d="M797.5,218.8 C799.6,216.0 807.9,205.2 810.0,202.5" stroke-width="2.30"/><path d="M797.5,218.8 C798.8,220.2 802.9,223.5 805.0,227.5 C807.1,231.5 809.6,237.5 810.0,242.5 C810.4,247.5 807.9,255.0 807.5,257.5" stroke-width="2.30"/><path d="M767.5,240.0 C765.8,243.3 761.7,254.2 757.5,260.0 C753.3,265.8 747.9,270.8 742.5,275.0 C737.1,279.2 732.1,282.1 725.0,285.0 C717.9,287.9 704.2,291.2 700.0,292.5" stroke-width="2.30"/><path d="M725.0,285.0 C729.2,285.4 743.3,285.0 750.0,287.5 C756.7,290.0 762.5,297.9 765.0,300.0" stroke-width="2.30"/><path d="M824.0,242.0 C826.9,238.5 835.0,226.0 841.5,220.8 C848.0,215.6 855.9,211.7 863.0,211.0 C870.1,210.3 877.9,212.4 884.0,216.5 C890.1,220.6 896.5,229.1 899.4,235.8 C902.3,242.6 901.9,252.1 901.5,257.0 C901.1,261.9 897.8,263.7 897.0,265.0" stroke-width="2.42"/><path d="M865.0,257.5 C863.3,260.4 859.2,268.8 855.0,275.0 C850.8,281.2 842.5,291.7 840.0,295.0" stroke-width="2.30"/><path d="M890.0,290.0 C891.7,289.6 898.3,287.9 900.0,287.5" stroke-width="2.30"/><path d="M880.0,186.0 C883.3,186.0 893.8,185.4 900.0,186.2 C906.2,187.1 912.5,187.3 917.5,191.2 C922.5,195.2 926.7,204.0 930.0,210.0 C933.3,216.0 935.4,221.7 937.5,227.5 C939.6,233.3 938.8,240.4 942.5,245.0 C946.2,249.6 954.6,250.8 960.0,255.0 C965.4,259.2 971.7,264.2 975.0,270.0 C978.3,275.8 977.1,284.2 980.0,290.0 C982.9,295.8 990.4,302.5 992.5,305.0" stroke-width="2.76"/><path d="M997.5,237.5 C998.8,240.4 1003.3,248.8 1005.0,255.0 C1006.7,261.2 1007.1,270.0 1007.5,275.0 C1007.9,280.0 1007.5,283.3 1007.5,285.0" stroke-width="2.30"/><path d="M890.0,290.0 C893.8,290.8 905.4,295.8 912.5,295.0 C919.6,294.2 929.2,286.7 932.5,285.0" stroke-width="2.30"/><path d="M912.5,295.0 C913.3,297.5 916.7,307.5 917.5,310.0" stroke-width="2.30"/><path d="M952.5,210.0 C954.6,210.2 962.9,211.0 965.0,211.2" stroke-width="1.84"/><path d="M917.5,187.5 C917.9,185.8 919.6,179.2 920.0,177.5" stroke-width="2.30"/><path d="M915.0,290.0 C914.2,293.3 911.2,303.3 910.0,310.0 C908.8,316.7 908.3,325.0 907.5,330.0 C906.7,335.0 907.9,337.5 905.0,340.0 C902.1,342.5 892.5,344.2 890.0,345.0" stroke-width="2.53"/><path d="M905.0,340.0 C908.8,341.7 919.6,348.1 927.5,350.0 C935.4,351.9 945.4,351.7 952.5,351.2 C959.6,350.8 965.8,346.9 970.0,347.5 C974.2,348.1 976.0,350.8 977.5,355.0 C979.0,359.2 979.0,367.1 978.8,372.5 C978.5,377.9 976.7,385.0 976.2,387.5" stroke-width="2.53"/><path d="M902.5,367.5 C900.4,369.2 892.1,375.8 890.0,377.5" stroke-width="2.30"/><path d="M977.5,290.0 C976.7,291.2 969.6,295.0 972.5,297.5 C975.4,300.0 989.2,300.8 995.0,305.0 C1000.8,309.2 1004.6,316.7 1007.5,322.5 C1010.4,328.3 1012.1,334.2 1012.5,340.0 C1012.9,345.8 1010.4,354.6 1010.0,357.5" stroke-width="2.76"/><path d="M1040.0,335.0 C1041.7,333.3 1048.3,326.7 1050.0,325.0" stroke-width="2.30"/><path d="M982.5,395.0 C985.8,394.2 995.4,391.7 1002.5,390.0 C1009.6,388.3 1017.9,387.5 1025.0,385.0 C1032.1,382.5 1039.2,378.8 1045.0,375.0 C1050.8,371.2 1057.5,364.6 1060.0,362.5" stroke-width="2.76"/><path d="M995.0,393.0 C995.0,394.8 994.9,400.3 995.0,404.0 C995.1,407.7 995.4,413.2 995.5,415.0" stroke-width="3.45"/><path d="M1025.0,385.0 C1025.4,387.1 1027.1,395.4 1027.5,397.5" stroke-width="2.99"/><path d="M1057.5,400.0 C1056.2,403.3 1052.5,415.0 1050.0,420.0 C1047.5,425.0 1043.8,428.3 1042.5,430.0" stroke-width="2.76"/><path d="M842.5,290.0 C841.7,291.7 834.6,297.1 837.5,300.0 C840.4,302.9 853.8,305.2 860.0,307.5 C866.2,309.8 872.5,312.7 875.0,313.8" stroke-width="2.53"/><path d="M837.5,300.0 C835.0,302.5 827.1,309.2 822.5,315.0 C817.9,320.8 813.3,330.2 810.0,335.0 C806.7,339.8 807.9,341.5 802.5,343.8 C797.1,346.0 786.7,346.5 777.5,348.8 C768.3,351.0 756.7,354.8 747.5,357.5 C738.3,360.2 728.8,363.3 722.5,365.0 C716.2,366.7 712.1,367.1 710.0,367.5" stroke-width="2.76"/><path d="M802.5,343.8 C804.6,345.2 811.7,348.5 815.0,352.5 C818.3,356.5 821.2,365.0 822.5,367.5" stroke-width="2.30"/><path d="M722.5,365.0 C725.0,365.8 732.9,367.3 737.5,370.0 C742.1,372.7 747.9,379.4 750.0,381.2" stroke-width="2.30"/><path d="M730.0,300.0 C731.2,302.9 733.8,316.2 737.5,317.5 C741.2,318.8 750.0,309.2 752.5,307.5" stroke-width="2.30"/><path d="M737.5,317.5 C736.7,321.2 734.6,332.5 732.5,340.0 C730.4,347.5 726.2,358.8 725.0,362.5" stroke-width="2.30"/><path d="M765.0,290.0 C766.7,293.3 773.3,306.7 775.0,310.0" stroke-width="2.30"/><path d="M720.0,365.0 C713.8,366.7 695.8,372.3 682.5,375.0 C669.2,377.7 648.9,378.7 640.0,381.0 C631.1,383.3 636.5,385.4 629.0,389.0 C621.5,392.6 606.9,398.6 595.0,402.5 C583.1,406.4 567.2,409.8 557.5,412.5 C547.8,415.2 540.4,417.9 537.0,419.0" stroke-width="2.76"/><path d="M629.0,389.0 C628.0,390.8 624.0,398.2 623.0,400.0" stroke-width="3.22"/><path d="M535.0,417.5 C535.0,415.8 535.0,409.2 535.0,407.5" stroke-width="2.30"/><path d="M600.0,350.0 C601.2,351.2 606.2,356.2 607.5,357.5" stroke-width="2.30"/><path d="M527.5,457.5 C531.2,459.6 543.3,466.2 550.0,470.0 C556.7,473.8 560.0,477.5 567.5,480.0 C575.0,482.5 584.2,483.3 595.0,485.0 C605.8,486.7 626.2,489.2 632.5,490.0" stroke-width="2.30"/><path d="M567.5,480.0 C567.1,481.7 565.4,488.3 565.0,490.0" stroke-width="2.30"/><path d="M632.5,465.0 C627.5,468.3 608.8,480.8 602.5,485.0 C596.2,489.2 596.2,489.2 595.0,490.0" stroke-width="2.07"/><path d="M537.0,420.0 C534.1,421.7 525.3,426.3 519.5,430.0 C513.7,433.7 506.6,439.1 502.0,442.4 C497.4,445.7 497.4,449.0 492.0,450.0 C486.6,451.0 473.5,448.8 469.8,448.6" stroke-width="2.53"/><path d="M492.0,450.0 C491.6,452.1 489.7,457.8 489.7,462.3 C489.7,466.8 489.1,473.5 492.0,477.2 C494.9,480.9 504.5,483.4 507.0,484.7" stroke-width="2.53"/><path d="M494.6,484.7 C493.8,486.4 490.5,493.0 489.7,494.6" stroke-width="2.30"/><path d="M422.5,473.5 C424.6,477.0 429.2,489.0 435.0,494.6 C440.8,500.2 447.4,504.5 457.3,507.0 C467.2,509.5 480.9,509.7 494.6,509.5 C508.3,509.3 531.9,506.4 539.4,505.8" stroke-width="2.07"/><path d="M539.4,505.8 C539.8,507.2 541.5,513.0 541.9,514.5" stroke-width="2.76"/><path d="M489.7,519.5 C494.7,518.9 511.2,517.9 519.5,515.8 C527.8,513.7 536.1,508.5 539.4,507.0" stroke-width="2.07"/><path d="M528.2,458.6 C531.7,460.5 542.5,465.9 549.4,469.8 C556.2,473.7 561.9,479.5 569.3,482.2 C576.7,484.9 585.5,485.4 594.0,486.0 C602.5,486.6 615.7,486.0 620.0,486.0" stroke-width="2.30"/><path d="M569.3,482.2 C567.6,484.7 564.3,493.1 559.3,497.0 C554.3,500.9 542.7,504.3 539.4,505.8" stroke-width="2.30"/><path d="M581.7,462.3 C588.1,460.6 613.6,454.0 620.0,452.3" stroke-width="2.30"/><path d="M712.5,445.0 C712.9,447.5 713.3,455.8 715.0,460.0 C716.7,464.2 717.9,468.8 722.5,470.0 C727.1,471.2 735.0,469.2 742.5,467.5 C750.0,465.8 759.6,462.9 767.5,460.0 C775.4,457.1 785.4,452.5 790.0,450.0 C794.6,447.5 794.2,445.8 795.0,445.0" stroke-width="2.07"/><path d="M762.5,445.0 C767.5,444.8 781.2,444.2 792.5,443.8 C803.8,443.3 822.1,441.9 830.0,442.5 C837.9,443.1 835.8,446.0 840.0,447.5 C844.2,449.0 848.3,450.8 855.0,451.2 C861.7,451.7 875.8,450.2 880.0,450.0" stroke-width="2.07"/><path d="M680.0,487.5 C684.2,486.2 698.3,482.4 705.0,480.0 C711.7,477.6 717.5,474.2 720.0,473.0" stroke-width="2.07"/><path d="M600.0,327.5 C595.8,329.0 583.3,334.4 575.0,336.2 C566.7,338.1 558.3,336.9 550.0,338.8 C541.7,340.6 533.3,344.0 525.0,347.5 C516.7,351.0 507.1,356.2 500.0,360.0 C492.9,363.8 487.5,367.1 482.5,370.0 C477.5,372.9 475.4,373.8 470.0,377.5 C464.6,381.2 455.8,387.9 450.0,392.5 C444.2,397.1 439.2,400.4 435.0,405.0 C430.8,409.6 427.5,414.2 425.0,420.0 C422.5,425.8 420.8,436.7 420.0,440.0" stroke-width="2.76"/><path d="M400.0,365.0 C404.2,364.8 416.7,363.5 425.0,363.8 C433.3,364.0 442.1,364.8 450.0,366.2 C457.9,367.7 468.8,371.5 472.5,372.5" stroke-width="2.53"/><path d="M422.5,300.0 C427.1,302.1 442.1,307.5 450.0,312.5 C457.9,317.5 464.6,324.2 470.0,330.0 C475.4,335.8 478.8,342.5 482.5,347.5 C486.2,352.5 490.8,357.9 492.5,360.0" stroke-width="2.53"/><path d="M495.0,300.0 C495.8,302.9 496.7,311.2 500.0,317.5 C503.3,323.8 512.5,334.2 515.0,337.5" stroke-width="2.53"/><path d="M540.0,300.0 C541.2,302.9 545.8,311.2 547.5,317.5 C549.2,323.8 549.6,334.2 550.0,337.5" stroke-width="2.53"/><path d="M587.5,300.0 C587.9,302.5 589.6,312.5 590.0,315.0" stroke-width="2.53"/><path d="M580.0,337.5 C583.3,339.2 596.7,345.8 600.0,347.5" stroke-width="2.30"/><path d="M400.0,385.0 C402.5,384.6 412.5,382.9 415.0,382.5" stroke-width="2.30"/><path d="M410.0,405.0 C414.2,403.7 428.0,399.5 435.0,397.0 C442.0,394.5 449.2,391.2 452.0,390.0" stroke-width="2.30"/><path d="M400.0,417.5 C404.2,417.1 419.6,415.8 425.0,415.0 C430.4,414.2 431.2,412.9 432.5,412.5" stroke-width="2.30"/><path d="M535.0,407.5 C535.4,409.2 537.1,415.8 537.5,417.5" stroke-width="2.76"/><path d="M652.9,85.6 C656.1,86.1 665.4,87.6 672.2,88.8 C679.0,90.0 688.0,91.0 693.7,92.5 C699.4,94.0 704.4,97.1 706.5,98.0" stroke-width="2.30"/><path d="M791.5,105.0 C793.6,106.4 801.4,111.4 804.4,113.6 C807.4,115.8 805.3,115.9 809.8,117.9 C814.3,119.9 825.0,124.3 831.2,125.4 C837.5,126.5 842.5,124.2 847.3,124.3 C852.1,124.4 857.9,125.7 860.0,126.0" stroke-width="2.53"/><path d="M640.0,100.0 C641.7,101.7 647.9,106.7 650.0,110.0 C652.1,113.3 652.9,116.7 652.5,120.0 C652.1,123.3 648.3,128.3 647.5,130.0" stroke-width="2.30"/><path d="M648.6,128.0 C650.8,126.4 655.8,121.9 661.5,118.3 C667.2,114.7 675.5,109.9 683.0,106.5 C690.5,103.1 698.7,99.1 706.5,98.0 C714.3,96.9 722.3,98.7 730.0,100.0 C737.7,101.3 746.8,103.7 752.9,106.0 C759.0,108.3 762.7,111.1 766.8,113.6 C770.9,116.1 775.8,119.8 777.6,121.1" stroke-width="2.53"/><path d="M777.6,121.1 C780.3,121.1 788.3,121.6 793.7,121.1 C799.1,120.6 807.1,118.4 809.8,117.9" stroke-width="2.53"/><path d="M831.2,125.4 C833.9,126.7 842.5,130.7 847.3,133.0 C852.1,135.3 854.5,137.2 860.0,139.4 C865.5,141.6 873.3,143.6 880.0,146.0 C886.7,148.4 894.7,150.3 900.0,154.0 C905.3,157.7 910.0,165.7 912.0,168.0" stroke-width="2.30"/><path d="M775.0,119.0 C771.2,121.3 759.2,128.2 752.5,133.0 C745.8,137.8 742.1,143.0 735.0,147.5 C727.9,152.0 717.5,156.2 710.0,160.0 C702.5,163.8 696.2,165.8 690.0,170.0 C683.8,174.2 675.4,182.5 672.5,185.0" stroke-width="2.76"/><path d="M752.5,132.5 C753.3,134.6 757.5,141.1 757.5,145.0 C757.5,148.9 755.4,153.1 752.5,156.0 C749.6,158.9 742.1,161.4 740.0,162.5" stroke-width="2.76"/><path d="M757.5,145.0 C759.2,146.3 766.2,151.7 768.0,153.0" stroke-width="2.30"/><path d="M672.5,185.0 C672.5,189.2 672.5,205.8 672.5,210.0" stroke-width="2.76"/><path d="M640.0,170.0 C645.4,172.9 667.1,184.6 672.5,187.5" stroke-width="2.53"/><path d="M791.3,136.7 C794.8,138.0 803.4,141.2 812.2,144.7 C821.1,148.2 835.8,153.8 844.4,157.6 C853.0,161.4 859.4,165.2 863.7,167.3 C868.0,169.5 869.0,170.0 870.0,170.5" stroke-width="2.30"/><path d="M918.0,194.0 C918.0,192.7 918.0,187.3 918.0,186.0" stroke-width="2.76"/><path d="M931.0,164.0 C931.2,166.0 931.8,174.0 932.0,176.0" stroke-width="2.30"/><path d="M940.0,174.0 C941.3,174.2 946.7,174.8 948.0,175.0" stroke-width="2.30"/><path d="M600.0,327.5 C605.1,325.2 621.6,316.6 630.4,313.9 C639.2,311.1 643.1,313.3 653.0,311.0 C662.9,308.7 678.8,304.2 690.0,300.0 C701.2,295.8 708.8,291.5 720.5,285.7 C732.2,279.9 753.4,268.4 760.0,265.0" stroke-width="2.76"/><path d="M630.4,313.9 C634.1,317.6 649.8,328.9 652.9,336.4 C656.0,343.9 653.0,350.2 649.0,359.0 C645.0,367.8 632.3,384.0 629.0,389.0" stroke-width="2.76"/><path d="M772.7,380.0 C774.4,382.5 780.4,390.4 782.7,395.0 C785.0,399.6 789.5,403.8 786.5,407.6 C783.5,411.4 772.8,414.4 765.0,417.6 C757.2,420.8 748.3,423.6 740.0,427.0 C731.7,430.4 723.3,435.0 715.0,437.7 C706.7,440.4 702.5,441.3 690.0,443.0 C677.5,444.7 657.9,444.9 640.0,447.7 C622.1,450.5 592.1,457.9 582.5,460.0" stroke-width="2.18"/><path d="M786.5,407.6 C791.3,408.4 806.3,411.6 815.3,412.6 C824.3,413.7 832.0,414.3 840.3,413.9 C848.6,413.5 858.6,412.3 865.3,410.0 C872.0,407.7 875.7,404.2 880.3,400.0 C884.9,395.8 889.1,390.2 892.9,385.0 C896.7,379.8 901.2,371.5 902.9,368.8" stroke-width="2.42"/><path d="M870.3,415.0 C874.4,415.8 886.6,418.3 895.0,420.0 C903.4,421.7 910.3,422.5 920.4,425.0 C930.5,427.5 949.6,433.5 955.5,435.2" stroke-width="2.30"/><path d="M923.0,422.6 C925.9,420.1 936.3,412.2 940.5,407.6 C944.7,403.0 945.9,400.8 948.0,395.0 C950.1,389.2 952.2,376.3 953.0,372.6" stroke-width="2.30"/><path d="M925.4,355.0 C925.0,358.3 924.6,368.3 923.0,375.0 C921.4,381.7 916.8,391.7 915.5,395.0" stroke-width="2.30"/><path d="M822.8,382.6 C825.7,381.8 833.8,380.1 840.0,378.0 C846.2,375.9 854.0,374.2 860.3,370.0 C866.6,365.8 872.9,356.8 877.9,352.6 C882.9,348.4 885.4,347.1 890.0,345.0 C894.6,342.9 902.8,340.8 905.4,340.0" stroke-width="2.53"/><path d="M877.9,352.6 C876.2,350.5 869.5,342.1 867.8,340.0" stroke-width="2.53"/><path d="M832.8,437.7 C833.3,438.8 835.5,442.9 836.0,444.0" stroke-width="2.30"/><path d="M305.0,410.0 C310.8,410.2 327.5,410.0 340.0,411.0 C352.5,412.0 365.0,415.2 380.0,416.0 C395.0,416.8 421.7,416.0 430.0,416.0" stroke-width="2.30"/><path d="M347.5,377.5 C349.6,378.4 355.4,381.6 360.0,383.0 C364.6,384.4 369.2,385.7 375.0,386.0 C380.8,386.3 388.3,385.6 395.0,385.0 C401.7,384.4 411.7,382.9 415.0,382.5" stroke-width="2.30"/><path d="M370.0,347.5 C374.2,345.4 389.2,338.3 395.0,335.0 C400.8,331.7 400.0,328.3 405.0,327.5 C410.0,326.7 421.7,329.6 425.0,330.0" stroke-width="2.53"/><path d="M225.0,427.5 C227.5,426.8 235.0,424.2 240.0,423.0 C245.0,421.8 252.5,420.5 255.0,420.0" stroke-width="2.07"/><path d="M275.0,425.0 C277.8,424.2 286.2,421.7 292.0,420.0 C297.8,418.3 307.0,415.8 310.0,415.0" stroke-width="2.07"/><path d="M212.0,204.0 C215.0,203.0 223.7,200.0 230.0,198.0 C236.3,196.0 243.3,193.9 250.0,192.0 C256.7,190.1 263.3,187.8 270.0,186.5 C276.7,185.2 284.7,184.8 290.0,184.0 C295.3,183.2 300.0,182.3 302.0,182.0" stroke-width="2.30"/></g>
<clipPath id="co"><path d="M351.0,104.0 C358.5,100.8 382.5,96.7 395.0,96.0 C407.5,95.3 418.5,96.4 426.0,99.7 C433.5,103.0 438.5,110.1 440.0,115.8 C441.5,121.5 436.0,127.7 434.8,133.7 C433.6,139.7 432.4,146.2 433.0,151.6 C433.6,157.0 438.7,160.6 438.4,166.0 C438.1,171.4 433.7,178.5 431.0,183.8 C428.3,189.1 426.1,192.1 422.3,198.0 C418.5,203.9 414.0,212.9 408.0,219.5 C402.0,226.1 394.5,232.0 386.5,237.4 C378.5,242.8 367.8,247.9 360.0,252.0 C352.2,256.1 351.7,259.0 340.0,262.0 C328.3,265.0 304.7,269.5 290.0,270.0 C275.3,270.5 260.3,267.5 252.0,265.0 C243.7,262.5 241.7,260.8 240.0,255.0 C238.3,249.2 240.3,237.5 242.0,230.0 C243.7,222.5 246.2,216.7 250.0,210.0 C253.8,203.3 258.3,195.3 265.0,190.0 C271.7,184.7 281.7,182.5 290.0,178.0 C298.3,173.5 306.7,169.3 315.0,163.0 C323.3,156.7 334.2,148.0 340.0,140.0 C345.8,132.0 348.2,121.0 350.0,115.0 C351.8,109.0 343.5,107.2 351.0,104.0Z"/></clipPath>
<g clip-path="url(#co)" fill="none" stroke="#5e1206" stroke-linecap="round" stroke-linejoin="round"><path d="M324.0,121.0 C325.4,122.1 331.2,126.4 332.7,127.5" stroke-width="2.30"/><path d="M290.0,136.0 C287.5,137.5 279.2,140.2 275.0,145.0 C270.8,149.8 267.1,157.9 265.0,165.0 C262.9,172.1 263.0,183.8 262.6,187.6" stroke-width="2.30"/><path d="M243.0,167.0 C245.0,167.3 253.0,168.7 255.0,169.0" stroke-width="2.30"/><path d="M325.0,146.0 C325.8,148.8 332.5,158.2 330.0,162.6 C327.5,167.0 317.1,168.0 310.0,172.6 C302.9,177.2 292.6,183.8 287.6,190.0 C282.6,196.2 282.1,203.3 280.0,210.0 C277.9,216.7 277.0,223.3 275.0,230.0 C273.0,236.7 269.2,246.7 268.0,250.0" stroke-width="3.68"/><path d="M330.0,162.6 C336.2,161.8 361.2,158.4 367.5,157.6" stroke-width="2.53"/><path d="M287.6,190.0 C284.7,189.8 272.9,189.2 270.0,189.0" stroke-width="2.53"/><path d="M307.6,204.0 C310.5,204.6 320.8,204.9 325.0,207.6 C329.2,210.3 331.4,217.9 332.7,220.0" stroke-width="2.07"/><path d="M335.0,217.6 C337.5,214.3 342.5,202.2 350.0,197.6 C357.5,193.0 375.0,191.3 380.0,190.0" stroke-width="2.07"/><path d="M371.3,112.5 C374.0,114.2 384.5,118.8 387.6,122.5 C390.7,126.2 390.6,130.8 390.0,135.0 C389.4,139.2 387.6,143.8 383.8,147.6 C380.1,151.4 370.2,155.9 367.5,157.6" stroke-width="2.53"/><path d="M402.6,123.8 C408.8,122.8 432.5,118.1 440.0,117.5 C447.5,116.9 445.5,117.9 447.6,120.0 C449.7,122.1 449.2,126.7 452.6,130.0 C456.0,133.3 465.2,138.3 467.7,140.0" stroke-width="2.30"/><path d="M420.0,97.5 C425.8,96.9 446.7,93.8 455.0,93.8 C463.3,93.8 467.5,96.9 470.0,97.5" stroke-width="2.30"/><path d="M447.6,110.0 C451.3,108.1 460.4,102.1 470.0,98.8 C479.6,95.5 496.7,91.5 505.0,90.0 C513.3,88.5 517.5,90.0 520.0,90.0" stroke-width="2.30"/><path d="M370.0,157.6 C373.7,158.5 387.0,160.6 392.0,163.0 C397.0,165.4 399.1,169.2 400.0,172.0 C400.9,174.8 398.0,178.7 397.6,180.0" stroke-width="2.07"/><path d="M330.0,200.0 C334.2,197.5 343.7,188.3 355.0,185.0 C366.3,181.7 388.4,180.4 397.6,180.0 C406.8,179.6 403.8,181.8 410.0,182.6 C416.2,183.4 426.7,184.8 435.0,185.0 C443.3,185.2 455.8,184.2 460.0,184.0" stroke-width="2.30"/><path d="M450.0,92.5 C452.5,92.3 461.2,90.4 465.0,91.2 C468.8,92.1 471.2,96.5 472.5,97.5" stroke-width="2.30"/><path d="M450.0,110.0 C450.4,112.1 451.2,118.8 452.5,122.5 C453.8,126.2 455.4,130.0 457.5,132.5 C459.6,135.0 463.8,136.7 465.0,137.5" stroke-width="2.30"/><path d="M580.0,97.5 C575.0,99.2 559.6,103.3 550.0,107.5 C540.4,111.7 529.2,117.1 522.5,122.5 C515.8,127.9 515.8,132.9 510.0,140.0 C504.2,147.1 495.0,157.5 487.5,165.0 C480.0,172.5 471.2,180.0 465.0,185.0 C458.8,190.0 452.5,193.3 450.0,195.0" stroke-width="2.53"/><path d="M177.5,250.0 C182.5,251.2 200.4,255.0 207.5,257.5 C214.6,260.0 215.8,262.5 220.0,265.0 C224.2,267.5 230.4,271.2 232.5,272.5" stroke-width="2.30"/><path d="M240.0,262.0 C239.8,265.0 238.8,271.2 238.8,280.0 C238.8,288.8 239.0,304.6 240.0,315.0 C241.0,325.4 241.7,335.8 245.0,342.5 C248.3,349.2 250.8,350.8 260.0,355.0 C269.2,359.2 289.2,363.8 300.0,367.5 C310.8,371.2 320.8,375.8 325.0,377.5" stroke-width="2.53"/><path d="M282.5,200.0 C281.2,204.2 276.7,217.5 275.0,225.0 C273.3,232.5 273.8,240.8 272.5,245.0 C271.2,249.2 272.1,247.1 267.5,250.0 C262.9,252.9 250.4,259.6 245.0,262.5 C239.6,265.4 236.7,266.7 235.0,267.5" stroke-width="3.45"/><path d="M272.5,247.5 C275.4,247.5 283.3,247.1 290.0,247.5 C296.7,247.9 305.4,249.0 312.5,250.0 C319.6,251.0 326.2,253.3 332.5,253.8 C338.8,254.2 347.1,252.7 350.0,252.5" stroke-width="2.30"/><path d="M300.0,260.0 C304.2,258.3 320.8,251.7 325.0,250.0" stroke-width="2.07"/><path d="M307.5,202.5 C311.2,203.3 324.6,204.6 330.0,207.5 C335.4,210.4 338.3,217.9 340.0,220.0" stroke-width="2.07"/><path d="M467.5,245.0 C462.9,245.4 449.2,245.6 440.0,247.5 C430.8,249.4 418.8,253.3 412.5,256.2 C406.2,259.2 405.0,261.5 402.5,265.0 C400.0,268.5 398.3,272.5 397.5,277.5 C396.7,282.5 397.1,288.8 397.5,295.0 C397.9,301.2 399.2,309.2 400.0,315.0 C400.8,320.8 402.1,327.5 402.5,330.0" stroke-width="2.99"/><path d="M420.0,210.0 C421.2,212.9 424.6,221.7 427.5,227.5 C430.4,233.3 435.8,242.1 437.5,245.0" stroke-width="2.30"/><path d="M412.5,256.0 C410.0,253.8 402.5,246.2 397.5,242.5 C392.5,238.8 387.1,235.8 382.5,233.8 C377.9,231.7 372.1,230.6 370.0,230.0" stroke-width="2.30"/><path d="M397.5,277.5 C395.0,277.3 387.9,276.9 382.5,276.2 C377.1,275.6 372.1,274.0 365.0,273.8 C357.9,273.5 344.2,274.8 340.0,275.0" stroke-width="2.76"/><path d="M340.0,220.0 C343.3,220.8 352.5,222.9 360.0,225.0 C367.5,227.1 380.8,231.2 385.0,232.5" stroke-width="2.07"/><path d="M340.0,250.0 C344.2,251.2 360.8,256.2 365.0,257.5" stroke-width="2.07"/><path d="M212.0,204.0 C215.0,203.0 223.7,200.0 230.0,198.0 C236.3,196.0 243.3,193.9 250.0,192.0 C256.7,190.1 263.3,187.8 270.0,186.5 C276.7,185.2 284.7,184.8 290.0,184.0 C295.3,183.2 300.0,182.3 302.0,182.0" stroke-width="2.30"/></g>
<clipPath id="cb"><path d="M737.5,164.0 C747.9,161.2 759.6,160.8 770.0,161.0 C780.4,161.2 791.2,163.2 800.0,165.0 C808.8,166.8 815.0,168.0 823.0,171.5 C831.0,175.0 838.5,183.3 848.0,185.8 C857.5,188.3 870.5,186.0 880.0,186.2 C889.5,186.5 898.8,186.7 905.0,187.5 C911.2,188.3 914.6,188.8 917.5,191.2 C920.4,193.8 914.2,200.6 922.5,202.5 C930.8,204.4 956.2,202.1 967.5,202.5 C978.8,202.9 981.2,198.8 990.0,205.0 C998.8,211.2 1012.5,225.8 1020.0,240.0 C1027.5,254.2 1034.2,281.7 1035.0,290.0 C1035.8,298.3 1027.1,284.2 1025.0,290.0 C1022.9,295.8 1024.2,315.4 1022.5,325.0 C1020.8,334.6 1017.5,342.5 1015.0,347.5 C1012.5,352.5 1010.8,354.2 1007.5,355.0 C1004.2,355.8 1000.0,355.4 995.0,352.5 C990.0,349.6 982.5,340.6 977.5,337.5 C972.5,334.4 971.2,334.2 965.0,334.0 C958.8,333.8 947.5,336.3 940.0,336.0 C932.5,335.7 926.7,333.2 920.0,332.0 C913.3,330.8 906.7,330.3 900.0,329.0 C893.3,327.7 886.7,325.8 880.0,324.0 C873.3,322.2 866.7,320.3 860.0,318.0 C853.3,315.7 846.7,312.7 840.0,310.0 C833.3,307.3 826.7,305.3 820.0,302.0 C813.3,298.7 806.7,294.7 800.0,290.0 C793.3,285.3 786.7,278.3 780.0,274.0 C773.3,269.7 766.7,268.5 760.0,264.0 C753.3,259.5 746.3,252.3 740.0,247.0 C733.7,241.7 727.0,236.9 722.0,232.0 C717.0,227.1 713.7,223.2 710.0,217.5 C706.3,211.8 700.4,204.2 700.0,197.5 C699.6,190.8 701.2,183.1 707.5,177.5 C713.8,171.9 727.1,166.8 737.5,164.0Z"/></clipPath>
<g clip-path="url(#cb)" fill="none" stroke="#0a3048" stroke-linecap="round" stroke-linejoin="round"><path d="M707.5,255.0 C709.6,250.8 716.2,236.2 720.0,230.0 C723.8,223.8 728.3,219.6 730.0,217.5" stroke-width="2.07"/><path d="M770.0,160.0 C772.9,161.2 780.4,165.8 787.5,167.5 C794.6,169.2 803.8,168.3 812.5,170.0 C821.2,171.7 832.5,174.2 840.0,177.5 C847.5,180.8 851.7,188.3 857.5,190.0 C863.3,191.7 867.9,187.9 875.0,187.5 C882.1,187.1 895.8,187.5 900.0,187.5" stroke-width="2.53"/><path d="M787.5,167.5 C786.9,169.2 784.4,175.0 783.8,177.5 C783.1,180.0 783.8,181.7 783.8,182.5" stroke-width="2.30"/><path d="M745.0,182.5 C742.9,185.0 735.0,191.7 732.5,197.5 C730.0,203.3 731.2,212.9 730.0,217.5 C728.8,222.1 727.5,220.8 725.0,225.0 C722.5,229.2 717.5,237.5 715.0,242.5 C712.5,247.5 710.8,252.9 710.0,255.0" stroke-width="2.30"/><path d="M730.0,217.5 C735.4,216.9 751.2,213.5 762.5,213.8 C773.8,214.0 791.7,217.9 797.5,218.8" stroke-width="2.53"/><path d="M797.5,218.8 C799.6,216.0 807.9,205.2 810.0,202.5" stroke-width="2.30"/><path d="M797.5,218.8 C798.8,220.2 802.9,223.5 805.0,227.5 C807.1,231.5 809.6,237.5 810.0,242.5 C810.4,247.5 807.9,255.0 807.5,257.5" stroke-width="2.30"/><path d="M767.5,240.0 C765.8,243.3 761.7,254.2 757.5,260.0 C753.3,265.8 747.9,270.8 742.5,275.0 C737.1,279.2 732.1,282.1 725.0,285.0 C717.9,287.9 704.2,291.2 700.0,292.5" stroke-width="2.30"/><path d="M725.0,285.0 C729.2,285.4 743.3,285.0 750.0,287.5 C756.7,290.0 762.5,297.9 765.0,300.0" stroke-width="2.30"/><path d="M824.0,242.0 C826.9,238.5 835.0,226.0 841.5,220.8 C848.0,215.6 855.9,211.7 863.0,211.0 C870.1,210.3 877.9,212.4 884.0,216.5 C890.1,220.6 896.5,229.1 899.4,235.8 C902.3,242.6 901.9,252.1 901.5,257.0 C901.1,261.9 897.8,263.7 897.0,265.0" stroke-width="2.42"/><path d="M865.0,257.5 C863.3,260.4 859.2,268.8 855.0,275.0 C850.8,281.2 842.5,291.7 840.0,295.0" stroke-width="2.30"/><path d="M890.0,290.0 C891.7,289.6 898.3,287.9 900.0,287.5" stroke-width="2.30"/><path d="M880.0,186.0 C883.3,186.0 893.8,185.4 900.0,186.2 C906.2,187.1 912.5,187.3 917.5,191.2 C922.5,195.2 926.7,204.0 930.0,210.0 C933.3,216.0 935.4,221.7 937.5,227.5 C939.6,233.3 938.8,240.4 942.5,245.0 C946.2,249.6 954.6,250.8 960.0,255.0 C965.4,259.2 971.7,264.2 975.0,270.0 C978.3,275.8 977.1,284.2 980.0,290.0 C982.9,295.8 990.4,302.5 992.5,305.0" stroke-width="2.76"/><path d="M997.5,237.5 C998.8,240.4 1003.3,248.8 1005.0,255.0 C1006.7,261.2 1007.1,270.0 1007.5,275.0 C1007.9,280.0 1007.5,283.3 1007.5,285.0" stroke-width="2.30"/><path d="M890.0,290.0 C893.8,290.8 905.4,295.8 912.5,295.0 C919.6,294.2 929.2,286.7 932.5,285.0" stroke-width="2.30"/><path d="M912.5,295.0 C913.3,297.5 916.7,307.5 917.5,310.0" stroke-width="2.30"/><path d="M952.5,210.0 C954.6,210.2 962.9,211.0 965.0,211.2" stroke-width="1.84"/><path d="M917.5,187.5 C917.9,185.8 919.6,179.2 920.0,177.5" stroke-width="2.30"/><path d="M915.0,290.0 C914.2,293.3 911.2,303.3 910.0,310.0 C908.8,316.7 908.3,325.0 907.5,330.0 C906.7,335.0 907.9,337.5 905.0,340.0 C902.1,342.5 892.5,344.2 890.0,345.0" stroke-width="2.53"/><path d="M905.0,340.0 C908.8,341.7 919.6,348.1 927.5,350.0 C935.4,351.9 945.4,351.7 952.5,351.2 C959.6,350.8 965.8,346.9 970.0,347.5 C974.2,348.1 976.0,350.8 977.5,355.0 C979.0,359.2 979.0,367.1 978.8,372.5 C978.5,377.9 976.7,385.0 976.2,387.5" stroke-width="2.53"/><path d="M977.5,290.0 C976.7,291.2 969.6,295.0 972.5,297.5 C975.4,300.0 989.2,300.8 995.0,305.0 C1000.8,309.2 1004.6,316.7 1007.5,322.5 C1010.4,328.3 1012.1,334.2 1012.5,340.0 C1012.9,345.8 1010.4,354.6 1010.0,357.5" stroke-width="2.76"/><path d="M1040.0,335.0 C1041.7,333.3 1048.3,326.7 1050.0,325.0" stroke-width="2.30"/><path d="M982.5,395.0 C985.8,394.2 995.4,391.7 1002.5,390.0 C1009.6,388.3 1017.9,387.5 1025.0,385.0 C1032.1,382.5 1039.2,378.8 1045.0,375.0 C1050.8,371.2 1057.5,364.6 1060.0,362.5" stroke-width="2.76"/><path d="M842.5,290.0 C841.7,291.7 834.6,297.1 837.5,300.0 C840.4,302.9 853.8,305.2 860.0,307.5 C866.2,309.8 872.5,312.7 875.0,313.8" stroke-width="2.53"/><path d="M837.5,300.0 C835.0,302.5 827.1,309.2 822.5,315.0 C817.9,320.8 813.3,330.2 810.0,335.0 C806.7,339.8 807.9,341.5 802.5,343.8 C797.1,346.0 786.7,346.5 777.5,348.8 C768.3,351.0 756.7,354.8 747.5,357.5 C738.3,360.2 728.8,363.3 722.5,365.0 C716.2,366.7 712.1,367.1 710.0,367.5" stroke-width="2.76"/><path d="M802.5,343.8 C804.6,345.2 811.7,348.5 815.0,352.5 C818.3,356.5 821.2,365.0 822.5,367.5" stroke-width="2.30"/><path d="M722.5,365.0 C725.0,365.8 732.9,367.3 737.5,370.0 C742.1,372.7 747.9,379.4 750.0,381.2" stroke-width="2.30"/><path d="M730.0,300.0 C731.2,302.9 733.8,316.2 737.5,317.5 C741.2,318.8 750.0,309.2 752.5,307.5" stroke-width="2.30"/><path d="M737.5,317.5 C736.7,321.2 734.6,332.5 732.5,340.0 C730.4,347.5 726.2,358.8 725.0,362.5" stroke-width="2.30"/><path d="M765.0,290.0 C766.7,293.3 773.3,306.7 775.0,310.0" stroke-width="2.30"/><path d="M720.0,365.0 C713.8,366.7 695.8,372.3 682.5,375.0 C669.2,377.7 648.9,378.7 640.0,381.0 C631.1,383.3 636.5,385.4 629.0,389.0 C621.5,392.6 606.9,398.6 595.0,402.5 C583.1,406.4 567.2,409.8 557.5,412.5 C547.8,415.2 540.4,417.9 537.0,419.0" stroke-width="2.76"/><path d="M831.2,125.4 C833.9,126.7 842.5,130.7 847.3,133.0 C852.1,135.3 854.5,137.2 860.0,139.4 C865.5,141.6 873.3,143.6 880.0,146.0 C886.7,148.4 894.7,150.3 900.0,154.0 C905.3,157.7 910.0,165.7 912.0,168.0" stroke-width="2.30"/><path d="M775.0,119.0 C771.2,121.3 759.2,128.2 752.5,133.0 C745.8,137.8 742.1,143.0 735.0,147.5 C727.9,152.0 717.5,156.2 710.0,160.0 C702.5,163.8 696.2,165.8 690.0,170.0 C683.8,174.2 675.4,182.5 672.5,185.0" stroke-width="2.76"/><path d="M752.5,132.5 C753.3,134.6 757.5,141.1 757.5,145.0 C757.5,148.9 755.4,153.1 752.5,156.0 C749.6,158.9 742.1,161.4 740.0,162.5" stroke-width="2.76"/><path d="M757.5,145.0 C759.2,146.3 766.2,151.7 768.0,153.0" stroke-width="2.30"/><path d="M791.3,136.7 C794.8,138.0 803.4,141.2 812.2,144.7 C821.1,148.2 835.8,153.8 844.4,157.6 C853.0,161.4 859.4,165.2 863.7,167.3 C868.0,169.5 869.0,170.0 870.0,170.5" stroke-width="2.30"/><path d="M918.0,194.0 C918.0,192.7 918.0,187.3 918.0,186.0" stroke-width="2.76"/><path d="M931.0,164.0 C931.2,166.0 931.8,174.0 932.0,176.0" stroke-width="2.30"/><path d="M940.0,174.0 C941.3,174.2 946.7,174.8 948.0,175.0" stroke-width="2.30"/><path d="M600.0,327.5 C605.1,325.2 621.6,316.6 630.4,313.9 C639.2,311.1 643.1,313.3 653.0,311.0 C662.9,308.7 678.8,304.2 690.0,300.0 C701.2,295.8 708.8,291.5 720.5,285.7 C732.2,279.9 753.4,268.4 760.0,265.0" stroke-width="2.76"/><path d="M925.4,355.0 C925.0,358.3 924.6,368.3 923.0,375.0 C921.4,381.7 916.8,391.7 915.5,395.0" stroke-width="2.30"/><path d="M822.8,382.6 C825.7,381.8 833.8,380.1 840.0,378.0 C846.2,375.9 854.0,374.2 860.3,370.0 C866.6,365.8 872.9,356.8 877.9,352.6 C882.9,348.4 885.4,347.1 890.0,345.0 C894.6,342.9 902.8,340.8 905.4,340.0" stroke-width="2.53"/><path d="M877.9,352.6 C876.2,350.5 869.5,342.1 867.8,340.0" stroke-width="2.53"/></g>
<clipPath id="cg"><path d="M520.0,445.0 C531.7,441.3 553.3,434.6 570.0,430.0 C586.7,425.4 603.3,422.1 620.0,417.5 C636.7,412.9 653.3,406.9 670.0,402.5 C686.7,398.1 705.0,394.6 720.0,391.2 C735.0,387.9 745.0,385.0 760.0,382.5 C775.0,380.0 793.3,378.8 810.0,376.2 C826.7,373.8 847.5,370.4 860.0,367.5 C872.5,364.6 876.7,360.8 885.0,358.8 C893.3,356.7 900.8,355.0 910.0,355.0 C919.2,355.0 931.2,357.5 940.0,358.8 C948.8,360.0 958.3,360.2 962.5,362.5 C966.7,364.8 963.3,369.2 965.0,372.5 C966.7,375.8 972.1,378.8 972.5,382.5 C972.9,386.2 969.6,389.6 967.5,395.0 C965.4,400.4 961.7,409.2 960.0,415.0 C958.3,420.8 957.5,425.0 957.5,430.0 C957.5,435.0 965.4,442.0 960.0,445.0 C954.6,448.0 938.3,445.8 925.0,448.0 C911.7,450.2 895.8,454.0 880.0,458.0 C864.2,462.0 845.8,469.7 830.0,472.0 C814.2,474.3 799.6,469.0 785.0,472.0 C770.4,475.0 755.8,485.3 742.5,490.0 C729.2,494.7 715.4,496.7 705.0,500.0 C694.6,503.3 694.2,505.8 680.0,510.0 C665.8,514.2 636.4,520.8 620.0,525.0 C603.6,529.2 594.3,532.5 581.7,535.0 C569.1,537.5 556.4,540.9 544.4,540.0 C532.4,539.1 519.6,532.9 509.6,529.5 C499.7,526.1 490.5,523.2 484.7,519.5 C478.9,515.8 475.5,511.1 474.7,507.0 C473.9,502.9 479.3,499.6 479.7,494.6 C480.1,489.6 476.4,482.6 477.2,477.2 C478.0,471.8 480.9,466.5 484.7,462.3 C488.5,458.1 494.1,454.9 500.0,452.0 C505.9,449.1 508.3,448.7 520.0,445.0Z"/></clipPath>
<g clip-path="url(#cg)" fill="none" stroke="#1d4806" stroke-linecap="round" stroke-linejoin="round"><path d="M915.0,290.0 C914.2,293.3 911.2,303.3 910.0,310.0 C908.8,316.7 908.3,325.0 907.5,330.0 C906.7,335.0 907.9,337.5 905.0,340.0 C902.1,342.5 892.5,344.2 890.0,345.0" stroke-width="2.53"/><path d="M905.0,340.0 C908.8,341.7 919.6,348.1 927.5,350.0 C935.4,351.9 945.4,351.7 952.5,351.2 C959.6,350.8 965.8,346.9 970.0,347.5 C974.2,348.1 976.0,350.8 977.5,355.0 C979.0,359.2 979.0,367.1 978.8,372.5 C978.5,377.9 976.7,385.0 976.2,387.5" stroke-width="2.53"/><path d="M902.5,367.5 C900.4,369.2 892.1,375.8 890.0,377.5" stroke-width="2.30"/><path d="M977.5,290.0 C976.7,291.2 969.6,295.0 972.5,297.5 C975.4,300.0 989.2,300.8 995.0,305.0 C1000.8,309.2 1004.6,316.7 1007.5,322.5 C1010.4,328.3 1012.1,334.2 1012.5,340.0 C1012.9,345.8 1010.4,354.6 1010.0,357.5" stroke-width="2.76"/><path d="M982.5,395.0 C985.8,394.2 995.4,391.7 1002.5,390.0 C1009.6,388.3 1017.9,387.5 1025.0,385.0 C1032.1,382.5 1039.2,378.8 1045.0,375.0 C1050.8,371.2 1057.5,364.6 1060.0,362.5" stroke-width="2.76"/><path d="M837.5,300.0 C835.0,302.5 827.1,309.2 822.5,315.0 C817.9,320.8 813.3,330.2 810.0,335.0 C806.7,339.8 807.9,341.5 802.5,343.8 C797.1,346.0 786.7,346.5 777.5,348.8 C768.3,351.0 756.7,354.8 747.5,357.5 C738.3,360.2 728.8,363.3 722.5,365.0 C716.2,366.7 712.1,367.1 710.0,367.5" stroke-width="2.76"/><path d="M802.5,343.8 C804.6,345.2 811.7,348.5 815.0,352.5 C818.3,356.5 821.2,365.0 822.5,367.5" stroke-width="2.30"/><path d="M722.5,365.0 C725.0,365.8 732.9,367.3 737.5,370.0 C742.1,372.7 747.9,379.4 750.0,381.2" stroke-width="2.30"/><path d="M737.5,317.5 C736.7,321.2 734.6,332.5 732.5,340.0 C730.4,347.5 726.2,358.8 725.0,362.5" stroke-width="2.30"/><path d="M720.0,365.0 C713.8,366.7 695.8,372.3 682.5,375.0 C669.2,377.7 648.9,378.7 640.0,381.0 C631.1,383.3 636.5,385.4 629.0,389.0 C621.5,392.6 606.9,398.6 595.0,402.5 C583.1,406.4 567.2,409.8 557.5,412.5 C547.8,415.2 540.4,417.9 537.0,419.0" stroke-width="2.76"/><path d="M629.0,389.0 C628.0,390.8 624.0,398.2 623.0,400.0" stroke-width="3.22"/><path d="M535.0,417.5 C535.0,415.8 535.0,409.2 535.0,407.5" stroke-width="2.30"/><path d="M600.0,350.0 C601.2,351.2 606.2,356.2 607.5,357.5" stroke-width="2.30"/><path d="M527.5,457.5 C531.2,459.6 543.3,466.2 550.0,470.0 C556.7,473.8 560.0,477.5 567.5,480.0 C575.0,482.5 584.2,483.3 595.0,485.0 C605.8,486.7 626.2,489.2 632.5,490.0" stroke-width="2.30"/><path d="M567.5,480.0 C567.1,481.7 565.4,488.3 565.0,490.0" stroke-width="2.30"/><path d="M632.5,465.0 C627.5,468.3 608.8,480.8 602.5,485.0 C596.2,489.2 596.2,489.2 595.0,490.0" stroke-width="2.07"/><path d="M537.0,420.0 C534.1,421.7 525.3,426.3 519.5,430.0 C513.7,433.7 506.6,439.1 502.0,442.4 C497.4,445.7 497.4,449.0 492.0,450.0 C486.6,451.0 473.5,448.8 469.8,448.6" stroke-width="2.53"/><path d="M492.0,450.0 C491.6,452.1 489.7,457.8 489.7,462.3 C489.7,466.8 489.1,473.5 492.0,477.2 C494.9,480.9 504.5,483.4 507.0,484.7" stroke-width="2.53"/><path d="M494.6,484.7 C493.8,486.4 490.5,493.0 489.7,494.6" stroke-width="2.30"/><path d="M422.5,473.5 C424.6,477.0 429.2,489.0 435.0,494.6 C440.8,500.2 447.4,504.5 457.3,507.0 C467.2,509.5 480.9,509.7 494.6,509.5 C508.3,509.3 531.9,506.4 539.4,505.8" stroke-width="2.07"/><path d="M539.4,505.8 C539.8,507.2 541.5,513.0 541.9,514.5" stroke-width="2.76"/><path d="M489.7,519.5 C494.7,518.9 511.2,517.9 519.5,515.8 C527.8,513.7 536.1,508.5 539.4,507.0" stroke-width="2.07"/><path d="M528.2,458.6 C531.7,460.5 542.5,465.9 549.4,469.8 C556.2,473.7 561.9,479.5 569.3,482.2 C576.7,484.9 585.5,485.4 594.0,486.0 C602.5,486.6 615.7,486.0 620.0,486.0" stroke-width="2.30"/><path d="M569.3,482.2 C567.6,484.7 564.3,493.1 559.3,497.0 C554.3,500.9 542.7,504.3 539.4,505.8" stroke-width="2.30"/><path d="M581.7,462.3 C588.1,460.6 613.6,454.0 620.0,452.3" stroke-width="2.30"/><path d="M712.5,445.0 C712.9,447.5 713.3,455.8 715.0,460.0 C716.7,464.2 717.9,468.8 722.5,470.0 C727.1,471.2 735.0,469.2 742.5,467.5 C750.0,465.8 759.6,462.9 767.5,460.0 C775.4,457.1 785.4,452.5 790.0,450.0 C794.6,447.5 794.2,445.8 795.0,445.0" stroke-width="2.07"/><path d="M762.5,445.0 C767.5,444.8 781.2,444.2 792.5,443.8 C803.8,443.3 822.1,441.9 830.0,442.5 C837.9,443.1 835.8,446.0 840.0,447.5 C844.2,449.0 848.3,450.8 855.0,451.2 C861.7,451.7 875.8,450.2 880.0,450.0" stroke-width="2.07"/><path d="M680.0,487.5 C684.2,486.2 698.3,482.4 705.0,480.0 C711.7,477.6 717.5,474.2 720.0,473.0" stroke-width="2.07"/><path d="M600.0,327.5 C595.8,329.0 583.3,334.4 575.0,336.2 C566.7,338.1 558.3,336.9 550.0,338.8 C541.7,340.6 533.3,344.0 525.0,347.5 C516.7,351.0 507.1,356.2 500.0,360.0 C492.9,363.8 487.5,367.1 482.5,370.0 C477.5,372.9 475.4,373.8 470.0,377.5 C464.6,381.2 455.8,387.9 450.0,392.5 C444.2,397.1 439.2,400.4 435.0,405.0 C430.8,409.6 427.5,414.2 425.0,420.0 C422.5,425.8 420.8,436.7 420.0,440.0" stroke-width="2.76"/><path d="M400.0,365.0 C404.2,364.8 416.7,363.5 425.0,363.8 C433.3,364.0 442.1,364.8 450.0,366.2 C457.9,367.7 468.8,371.5 472.5,372.5" stroke-width="2.53"/><path d="M422.5,300.0 C427.1,302.1 442.1,307.5 450.0,312.5 C457.9,317.5 464.6,324.2 470.0,330.0 C475.4,335.8 478.8,342.5 482.5,347.5 C486.2,352.5 490.8,357.9 492.5,360.0" stroke-width="2.53"/><path d="M580.0,337.5 C583.3,339.2 596.7,345.8 600.0,347.5" stroke-width="2.30"/><path d="M535.0,407.5 C535.4,409.2 537.1,415.8 537.5,417.5" stroke-width="2.76"/><path d="M630.4,313.9 C634.1,317.6 649.8,328.9 652.9,336.4 C656.0,343.9 653.0,350.2 649.0,359.0 C645.0,367.8 632.3,384.0 629.0,389.0" stroke-width="2.76"/><path d="M772.7,380.0 C774.4,382.5 780.4,390.4 782.7,395.0 C785.0,399.6 789.5,403.8 786.5,407.6 C783.5,411.4 772.8,414.4 765.0,417.6 C757.2,420.8 748.3,423.6 740.0,427.0 C731.7,430.4 723.3,435.0 715.0,437.7 C706.7,440.4 702.5,441.3 690.0,443.0 C677.5,444.7 657.9,444.9 640.0,447.7 C622.1,450.5 592.1,457.9 582.5,460.0" stroke-width="2.18"/><path d="M786.5,407.6 C791.3,408.4 806.3,411.6 815.3,412.6 C824.3,413.7 832.0,414.3 840.3,413.9 C848.6,413.5 858.6,412.3 865.3,410.0 C872.0,407.7 875.7,404.2 880.3,400.0 C884.9,395.8 889.1,390.2 892.9,385.0 C896.7,379.8 901.2,371.5 902.9,368.8" stroke-width="2.42"/><path d="M870.3,415.0 C874.4,415.8 886.6,418.3 895.0,420.0 C903.4,421.7 910.3,422.5 920.4,425.0 C930.5,427.5 949.6,433.5 955.5,435.2" stroke-width="2.30"/><path d="M923.0,422.6 C925.9,420.1 936.3,412.2 940.5,407.6 C944.7,403.0 945.9,400.8 948.0,395.0 C950.1,389.2 952.2,376.3 953.0,372.6" stroke-width="2.30"/><path d="M925.4,355.0 C925.0,358.3 924.6,368.3 923.0,375.0 C921.4,381.7 916.8,391.7 915.5,395.0" stroke-width="2.30"/><path d="M822.8,382.6 C825.7,381.8 833.8,380.1 840.0,378.0 C846.2,375.9 854.0,374.2 860.3,370.0 C866.6,365.8 872.9,356.8 877.9,352.6 C882.9,348.4 885.4,347.1 890.0,345.0 C894.6,342.9 902.8,340.8 905.4,340.0" stroke-width="2.53"/><path d="M877.9,352.6 C876.2,350.5 869.5,342.1 867.8,340.0" stroke-width="2.53"/><path d="M832.8,437.7 C833.3,438.8 835.5,442.9 836.0,444.0" stroke-width="2.30"/></g>
<path d="M246.3,111.3 L325,190" stroke="#2a2a2a" stroke-width="1.3" fill="none"/>
<path d="M842.5,67 L867,232" stroke="#2a2a2a" stroke-width="1.3" fill="none"/>
<path d="M512,550.6 L633,464" stroke="#2a2a2a" stroke-width="1.3" fill="none"/>
<path d="M907.5,484 L1003,455" stroke="#555" stroke-width="1.4" fill="none"/>
<path d="M976,435 L976,454 L1040,454 L1040,435 M1005,436 L1005,454" stroke="#666" stroke-width="1.5" fill="none"/>
<path d="M452.0,160.0 C456.7,159.2 472.0,156.8 480.0,155.0 C488.0,153.2 488.3,150.5 500.0,149.0 C511.7,147.5 533.3,145.8 550.0,146.0 C566.7,146.2 584.2,148.1 600.0,150.0 C615.8,151.9 629.2,154.6 645.0,157.5 C660.8,160.4 682.1,164.5 695.0,167.5 C707.9,170.5 717.7,174.2 722.2,175.6" fill="none" stroke="#5157a8" stroke-width="6.5" stroke-linecap="butt"/>
<path d="M733.7,179.0 L717.5,180.7 L720.3,175.0 L721.1,168.7 Z" fill="#5157a8"/>
<path d="M480.0,155.0 C476.2,154.8 464.2,154.8 457.5,153.8 C450.8,152.7 448.3,151.0 440.0,148.8 C431.7,146.5 413.4,141.7 407.5,140.0 C401.6,138.3 405.1,138.9 404.7,138.7" fill="none" stroke="#5157a8" stroke-width="6.5" stroke-linecap="butt"/>
<path d="M393.8,133.8 L410.0,134.3 L406.5,139.5 L404.8,145.6 Z" fill="#5157a8"/>
<path d="M470.0,153.8 C465.8,154.4 454.2,155.4 445.0,157.5 C435.8,159.6 425.0,163.5 415.0,166.2 C405.0,169.0 390.6,172.4 385.0,173.8 C379.4,175.1 382.2,174.4 381.6,174.6" fill="none" stroke="#5157a8" stroke-width="6.5" stroke-linecap="butt"/>
<path d="M370.0,177.5 L383.0,167.8 L383.6,174.1 L386.1,179.9 Z" fill="#5157a8"/>
<path d="M470.0,157.0 C467.1,157.7 459.6,157.8 452.5,161.2 C445.4,164.7 435.8,172.3 427.5,177.5 C419.2,182.7 410.0,187.1 402.5,192.5 C395.0,197.9 388.3,204.2 382.5,210.0 C376.7,215.8 372.1,221.7 367.5,227.5 C362.9,233.3 358.3,240.4 355.0,245.0 C351.7,249.6 348.8,253.3 347.5,255.0" fill="none" stroke="#5157a8" stroke-width="6.5" stroke-linecap="butt"/>
<path d="M763.2,185.3 C769.4,185.5 785.5,185.1 800.0,186.2 C814.5,187.4 836.7,189.4 850.0,192.5 C863.3,195.6 868.6,199.5 880.0,205.0 C891.4,210.5 911.8,222.1 918.2,225.6" fill="none" stroke="#5157a8" stroke-width="6.5" stroke-linecap="butt"/>
<path d="M928.8,231.2 L912.6,229.6 L916.4,224.6 L918.5,218.6 Z" fill="#5157a8"/>
<path d="M751.2,185.0 L766.4,179.1 L765.2,185.4 L766.1,191.6 Z" fill="#5157a8"/>
<path d="M787.0,247.1 C793.3,247.0 810.3,245.1 825.0,246.0 C839.7,246.9 863.3,250.1 875.0,252.5 C886.7,254.9 891.8,259.2 895.1,260.5" fill="none" stroke="#5157a8" stroke-width="6.5" stroke-linecap="butt"/>
<path d="M906.2,265.0 L890.0,265.2 L893.3,259.8 L894.6,253.6 Z" fill="#5157a8"/>
<path d="M775.0,247.5 L789.8,240.8 L789.0,247.1 L790.2,253.3 Z" fill="#5157a8"/>
<path d="M934.4,268.7 C935.8,269.7 937.8,270.6 942.5,275.0 C947.2,279.4 957.5,287.5 962.5,295.0 C967.5,302.5 968.8,312.5 972.5,320.0 C976.2,327.5 982.6,335.7 985.0,340.0 C987.4,344.3 986.4,345.0 986.7,346.0" fill="none" stroke="#5157a8" stroke-width="6.5" stroke-linecap="butt"/>
<path d="M990.0,357.5 L979.9,344.8 L986.2,344.0 L991.9,341.4 Z" fill="#5157a8"/>
<path d="M925.0,261.2 L940.7,265.6 L936.0,269.9 L932.9,275.4 Z" fill="#5157a8"/>
<path d="M666.4,420.1 C670.3,418.8 677.7,415.2 690.0,412.0 C702.3,408.8 723.3,403.6 740.0,401.0 C756.7,398.4 776.8,397.2 790.0,396.5 C803.2,395.8 814.2,396.7 819.0,396.7" fill="none" stroke="#5157a8" stroke-width="6.5" stroke-linecap="butt"/>
<path d="M831.0,396.8 L816.0,402.9 L817.0,396.7 L816.0,390.4 Z" fill="#5157a8"/>
<path d="M655.0,424.0 L667.2,413.2 L668.2,419.5 L671.2,425.0 Z" fill="#5157a8"/>
<path d="M848.9,392.6 C851.6,391.8 854.8,388.8 865.0,387.5 C875.2,386.2 896.5,384.7 910.0,385.0 C923.5,385.3 940.1,388.8 946.1,389.5" fill="none" stroke="#5157a8" stroke-width="6.5" stroke-linecap="butt"/>
<path d="M958.0,391.0 L942.3,395.3 L944.1,389.3 L943.9,382.9 Z" fill="#5157a8"/>
<path d="M837.5,396.2 L849.9,385.7 L850.8,392.0 L853.7,397.7 Z" fill="#5157a8"/>
<path d="M674.0,477.6 C678.3,476.4 689.0,474.6 700.0,470.0 C711.0,465.4 725.0,457.5 740.0,450.0 C755.0,442.5 777.7,430.4 790.0,425.0 C802.3,419.6 809.6,418.7 813.6,417.4" fill="none" stroke="#5157a8" stroke-width="6.5" stroke-linecap="butt"/>
<path d="M825.0,413.8 L812.6,424.3 L811.7,418.0 L808.8,412.4 Z" fill="#5157a8"/>
<path d="M662.5,481.0 L675.1,470.8 L675.9,477.1 L678.7,482.8 Z" fill="#5157a8"/>
<path d="M525.7,485.3 C526.7,486.1 526.8,487.3 532.0,489.7 C537.2,492.1 548.5,497.8 556.8,499.6 C565.1,501.5 571.2,501.6 581.7,500.8 C592.2,500.0 611.4,496.1 620.0,494.6 C628.6,493.1 631.1,492.1 633.3,491.6" fill="none" stroke="#5157a8" stroke-width="6.5" stroke-linecap="butt"/>
<path d="M645.0,489.0 L631.7,498.4 L631.3,492.1 L629.0,486.2 Z" fill="#5157a8"/>
<path d="M515.8,478.5 L531.7,481.9 L527.3,486.5 L524.6,492.2 Z" fill="#5157a8"/>
<path d="M386,497.5 L458,497.5" stroke="#f01a10" stroke-width="5" fill="none"/>
<path d="M481,497 L452,487.5 L453.5,507 Z" fill="#f01a10"/>
<path d="M1032.5,182.5 L982,206" stroke="#f01a10" stroke-width="5" fill="none"/>
<path d="M964,215 L977.5,196.5 L996.5,211.5 Z" fill="#f01a10"/>
<path d="M1115,382.5 L1090,387" stroke="#111" stroke-width="5" fill="none"/>
<path d="M1074,391 L1097.5,377 L1105,395 Z" fill="#111"/>
<g fill="#f0360f" stroke="#f0360f" stroke-width="1.2" stroke-linejoin="round" letter-spacing="2.5" word-spacing="6">
<text x="140" y="109" font-size="28" textLength="168.5" lengthAdjust="spacingAndGlyphs">FRONTAL</text>
<text x="154" y="157.5" font-size="28" textLength="68.5" lengthAdjust="spacingAndGlyphs">LOB</text>
<text x="669" y="55" font-size="28" textLength="266.5" lengthAdjust="spacingAndGlyphs">PARYETAL LOB</text>
<text x="671" y="103.4" font-size="28" textLength="393.5" lengthAdjust="spacingAndGlyphs">(ARKA AKIM):Nerede?</text>
<text x="1081.5" y="271.5" font-size="26" textLength="201.5" lengthAdjust="spacingAndGlyphs">OKSİPİTAL</text>
<text x="1081.5" y="303" font-size="26" textLength="224.5" lengthAdjust="spacingAndGlyphs">KORTEKS:Pri</text>
<text x="1081.5" y="336" font-size="26" textLength="178.5" lengthAdjust="spacingAndGlyphs">mer görme</text>
<text x="1081.5" y="367.5" font-size="26" textLength="131.0" lengthAdjust="spacingAndGlyphs">merkezi</text>
<text x="116" y="461" font-size="28" textLength="277.5" lengthAdjust="spacingAndGlyphs">ALT TEMPORAL</text>
<text x="116" y="492.5" font-size="28" textLength="139.0" lengthAdjust="spacingAndGlyphs">LOB(ÖN</text>
<text x="116" y="525" font-size="28" textLength="191.5" lengthAdjust="spacingAndGlyphs">AKIM):Ne?</text>
</g>
<g fill="#112b60" stroke="#112b60" stroke-width="0.35" letter-spacing="1.8">
<text x="10" y="246" font-size="21" textLength="371" lengthAdjust="spacingAndGlyphs">GÖRSEL ARAMA VE GÖZÜN</text>
<text x="10" y="284.5" font-size="21" textLength="315" lengthAdjust="spacingAndGlyphs">MOTOR FAALİYETLERİ</text>
</g>

</svg>
</body></html>
